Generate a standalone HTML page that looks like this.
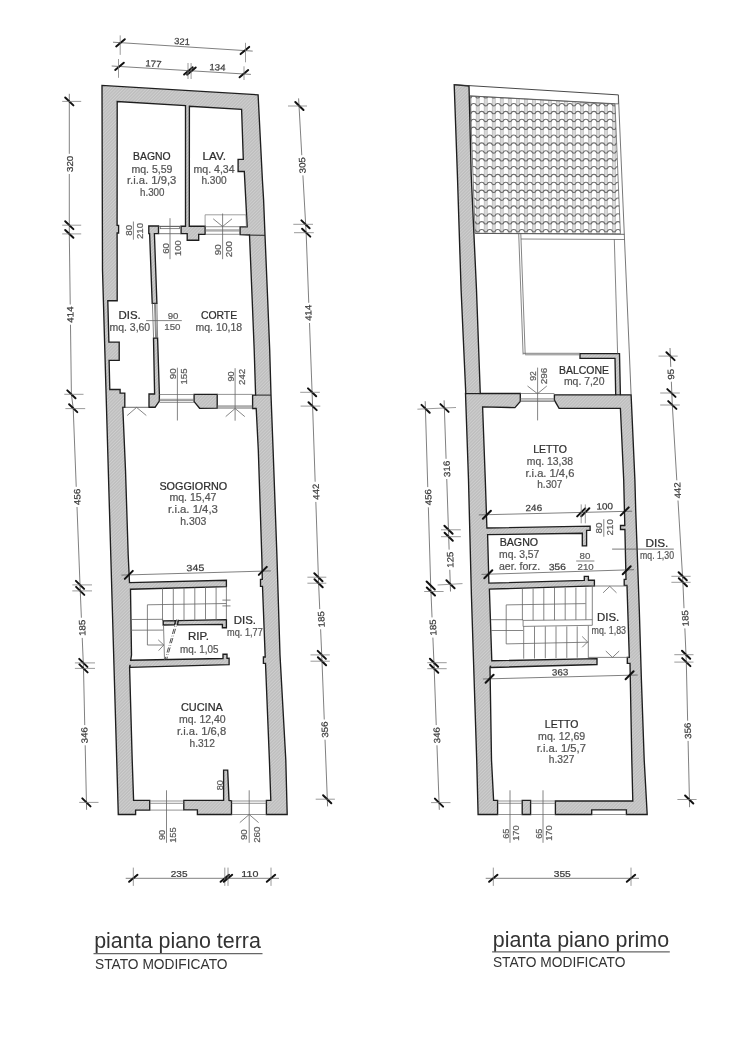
<!DOCTYPE html><html><head><meta charset="utf-8"><style>html,body{margin:0;padding:0;background:#fff;}svg{display:block;will-change:transform}</style></head><body>
<svg width="743" height="1050" viewBox="0 0 743 1050" font-family="&quot;Liberation Sans&quot;, sans-serif">
<defs>
<pattern id="h" patternUnits="userSpaceOnUse" width="2.3" height="2.3" patternTransform="rotate(-45)"><rect width="2.3" height="2.3" fill="#bebebe"/><rect width="2.3" height="0.9" fill="#cfcfcf"/></pattern>
</defs>
<clipPath id="rc"><polygon points="470.0,96.0 615.0,104.0 620.4,233.8 475.2,233.3"/></clipPath>
<g clip-path="url(#rc)">
<rect x="460" y="90" width="170" height="150" fill="#fff"/>
<rect x="467.86" y="90" width="3.6" height="150" fill="#d8d8d8"/><rect x="467.86" y="90" width="0.6" height="150" fill="#b8b8b8"/><rect x="470.86" y="90" width="0.6" height="150" fill="#bebebe"/><rect x="475.88" y="90" width="3.6" height="150" fill="#d8d8d8"/><rect x="475.88" y="90" width="0.6" height="150" fill="#b8b8b8"/><rect x="478.88" y="90" width="0.6" height="150" fill="#bebebe"/><rect x="483.90" y="90" width="3.6" height="150" fill="#d8d8d8"/><rect x="483.90" y="90" width="0.6" height="150" fill="#b8b8b8"/><rect x="486.90" y="90" width="0.6" height="150" fill="#bebebe"/><rect x="491.92" y="90" width="3.6" height="150" fill="#d8d8d8"/><rect x="491.92" y="90" width="0.6" height="150" fill="#b8b8b8"/><rect x="494.92" y="90" width="0.6" height="150" fill="#bebebe"/><rect x="499.94" y="90" width="3.6" height="150" fill="#d8d8d8"/><rect x="499.94" y="90" width="0.6" height="150" fill="#b8b8b8"/><rect x="502.94" y="90" width="0.6" height="150" fill="#bebebe"/><rect x="507.96" y="90" width="3.6" height="150" fill="#d8d8d8"/><rect x="507.96" y="90" width="0.6" height="150" fill="#b8b8b8"/><rect x="510.96" y="90" width="0.6" height="150" fill="#bebebe"/><rect x="515.98" y="90" width="3.6" height="150" fill="#d8d8d8"/><rect x="515.98" y="90" width="0.6" height="150" fill="#b8b8b8"/><rect x="518.98" y="90" width="0.6" height="150" fill="#bebebe"/><rect x="524.00" y="90" width="3.6" height="150" fill="#d8d8d8"/><rect x="524.00" y="90" width="0.6" height="150" fill="#b8b8b8"/><rect x="527.00" y="90" width="0.6" height="150" fill="#bebebe"/><rect x="532.02" y="90" width="3.6" height="150" fill="#d8d8d8"/><rect x="532.02" y="90" width="0.6" height="150" fill="#b8b8b8"/><rect x="535.02" y="90" width="0.6" height="150" fill="#bebebe"/><rect x="540.04" y="90" width="3.6" height="150" fill="#d8d8d8"/><rect x="540.04" y="90" width="0.6" height="150" fill="#b8b8b8"/><rect x="543.04" y="90" width="0.6" height="150" fill="#bebebe"/><rect x="548.06" y="90" width="3.6" height="150" fill="#d8d8d8"/><rect x="548.06" y="90" width="0.6" height="150" fill="#b8b8b8"/><rect x="551.06" y="90" width="0.6" height="150" fill="#bebebe"/><rect x="556.08" y="90" width="3.6" height="150" fill="#d8d8d8"/><rect x="556.08" y="90" width="0.6" height="150" fill="#b8b8b8"/><rect x="559.08" y="90" width="0.6" height="150" fill="#bebebe"/><rect x="564.10" y="90" width="3.6" height="150" fill="#d8d8d8"/><rect x="564.10" y="90" width="0.6" height="150" fill="#b8b8b8"/><rect x="567.10" y="90" width="0.6" height="150" fill="#bebebe"/><rect x="572.12" y="90" width="3.6" height="150" fill="#d8d8d8"/><rect x="572.12" y="90" width="0.6" height="150" fill="#b8b8b8"/><rect x="575.12" y="90" width="0.6" height="150" fill="#bebebe"/><rect x="580.14" y="90" width="3.6" height="150" fill="#d8d8d8"/><rect x="580.14" y="90" width="0.6" height="150" fill="#b8b8b8"/><rect x="583.14" y="90" width="0.6" height="150" fill="#bebebe"/><rect x="588.16" y="90" width="3.6" height="150" fill="#d8d8d8"/><rect x="588.16" y="90" width="0.6" height="150" fill="#b8b8b8"/><rect x="591.16" y="90" width="0.6" height="150" fill="#bebebe"/><rect x="596.18" y="90" width="3.6" height="150" fill="#d8d8d8"/><rect x="596.18" y="90" width="0.6" height="150" fill="#b8b8b8"/><rect x="599.18" y="90" width="0.6" height="150" fill="#bebebe"/><rect x="604.20" y="90" width="3.6" height="150" fill="#d8d8d8"/><rect x="604.20" y="90" width="0.6" height="150" fill="#b8b8b8"/><rect x="607.20" y="90" width="0.6" height="150" fill="#bebebe"/><rect x="612.22" y="90" width="3.6" height="150" fill="#d8d8d8"/><rect x="612.22" y="90" width="0.6" height="150" fill="#b8b8b8"/><rect x="615.22" y="90" width="0.6" height="150" fill="#bebebe"/><rect x="620.24" y="90" width="3.6" height="150" fill="#d8d8d8"/><rect x="620.24" y="90" width="0.6" height="150" fill="#b8b8b8"/><rect x="623.24" y="90" width="0.6" height="150" fill="#bebebe"/><rect x="628.26" y="90" width="3.6" height="150" fill="#d8d8d8"/><rect x="628.26" y="90" width="0.6" height="150" fill="#b8b8b8"/><rect x="631.26" y="90" width="0.6" height="150" fill="#bebebe"/>
<path d="M469.66,98.03Q471.16,98.03 471.46,97.03 C471.46,95.12 475.88,95.12 475.88,97.03 Q476.18,98.03 477.68,98.03Q479.18,98.03 479.48,97.03 C479.48,95.12 483.90,95.12 483.90,97.03 Q484.20,98.03 485.70,98.03Q487.20,98.03 487.50,97.03 C487.50,95.12 491.92,95.12 491.92,97.03 Q492.22,98.03 493.72,98.03Q495.22,98.03 495.52,97.03 C495.52,95.12 499.94,95.12 499.94,97.03 Q500.24,98.03 501.74,98.03Q503.24,98.03 503.54,97.03 C503.54,95.12 507.96,95.12 507.96,97.03 Q508.26,98.03 509.76,98.03Q511.26,98.03 511.56,97.03 C511.56,95.12 515.98,95.12 515.98,97.03 Q516.28,98.03 517.78,98.03Q519.28,98.03 519.58,97.03 C519.58,95.12 524.00,95.12 524.00,97.03 Q524.30,98.03 525.80,98.03Q527.30,98.03 527.60,97.03 C527.60,95.12 532.02,95.12 532.02,97.03 Q532.32,98.03 533.82,98.03Q535.32,98.03 535.62,97.03 C535.62,95.12 540.04,95.12 540.04,97.03 Q540.34,98.03 541.84,98.03Q543.34,98.03 543.64,97.03 C543.64,95.12 548.06,95.12 548.06,97.03 Q548.36,98.03 549.86,98.03Q551.36,98.03 551.66,97.03 C551.66,95.12 556.08,95.12 556.08,97.03 Q556.38,98.03 557.88,98.03Q559.38,98.03 559.68,97.03 C559.68,95.12 564.10,95.12 564.10,97.03 Q564.40,98.03 565.90,98.03Q567.40,98.03 567.70,97.03 C567.70,95.12 572.12,95.12 572.12,97.03 Q572.42,98.03 573.92,98.03Q575.42,98.03 575.72,97.03 C575.72,95.12 580.14,95.12 580.14,97.03 Q580.44,98.03 581.94,98.03Q583.44,98.03 583.74,97.03 C583.74,95.12 588.16,95.12 588.16,97.03 Q588.46,98.03 589.96,98.03Q591.46,98.03 591.76,97.03 C591.76,95.12 596.18,95.12 596.18,97.03 Q596.48,98.03 597.98,98.03Q599.48,98.03 599.78,97.03 C599.78,95.12 604.20,95.12 604.20,97.03 Q604.50,98.03 606.00,98.03Q607.50,98.03 607.80,97.03 C607.80,95.12 612.22,95.12 612.22,97.03 Q612.52,98.03 614.02,98.03Q615.52,98.03 615.82,97.03 C615.82,95.12 620.24,95.12 620.24,97.03 Q620.54,98.03 622.04,98.03Q623.54,98.03 623.84,97.03 C623.84,95.12 628.26,95.12 628.26,97.03 Q628.56,98.03 630.06,98.03Q631.56,98.03 631.86,97.03 C631.86,95.12 636.28,95.12 636.28,97.03 Q636.58,98.03 638.08,98.03 M469.66,105.90Q471.16,105.90 471.46,104.90 C471.46,103.00 475.88,103.00 475.88,104.90 Q476.18,105.90 477.68,105.90Q479.18,105.90 479.48,104.90 C479.48,103.00 483.90,103.00 483.90,104.90 Q484.20,105.90 485.70,105.90Q487.20,105.90 487.50,104.90 C487.50,103.00 491.92,103.00 491.92,104.90 Q492.22,105.90 493.72,105.90Q495.22,105.90 495.52,104.90 C495.52,103.00 499.94,103.00 499.94,104.90 Q500.24,105.90 501.74,105.90Q503.24,105.90 503.54,104.90 C503.54,103.00 507.96,103.00 507.96,104.90 Q508.26,105.90 509.76,105.90Q511.26,105.90 511.56,104.90 C511.56,103.00 515.98,103.00 515.98,104.90 Q516.28,105.90 517.78,105.90Q519.28,105.90 519.58,104.90 C519.58,103.00 524.00,103.00 524.00,104.90 Q524.30,105.90 525.80,105.90Q527.30,105.90 527.60,104.90 C527.60,103.00 532.02,103.00 532.02,104.90 Q532.32,105.90 533.82,105.90Q535.32,105.90 535.62,104.90 C535.62,103.00 540.04,103.00 540.04,104.90 Q540.34,105.90 541.84,105.90Q543.34,105.90 543.64,104.90 C543.64,103.00 548.06,103.00 548.06,104.90 Q548.36,105.90 549.86,105.90Q551.36,105.90 551.66,104.90 C551.66,103.00 556.08,103.00 556.08,104.90 Q556.38,105.90 557.88,105.90Q559.38,105.90 559.68,104.90 C559.68,103.00 564.10,103.00 564.10,104.90 Q564.40,105.90 565.90,105.90Q567.40,105.90 567.70,104.90 C567.70,103.00 572.12,103.00 572.12,104.90 Q572.42,105.90 573.92,105.90Q575.42,105.90 575.72,104.90 C575.72,103.00 580.14,103.00 580.14,104.90 Q580.44,105.90 581.94,105.90Q583.44,105.90 583.74,104.90 C583.74,103.00 588.16,103.00 588.16,104.90 Q588.46,105.90 589.96,105.90Q591.46,105.90 591.76,104.90 C591.76,103.00 596.18,103.00 596.18,104.90 Q596.48,105.90 597.98,105.90Q599.48,105.90 599.78,104.90 C599.78,103.00 604.20,103.00 604.20,104.90 Q604.50,105.90 606.00,105.90Q607.50,105.90 607.80,104.90 C607.80,103.00 612.22,103.00 612.22,104.90 Q612.52,105.90 614.02,105.90Q615.52,105.90 615.82,104.90 C615.82,103.00 620.24,103.00 620.24,104.90 Q620.54,105.90 622.04,105.90Q623.54,105.90 623.84,104.90 C623.84,103.00 628.26,103.00 628.26,104.90 Q628.56,105.90 630.06,105.90Q631.56,105.90 631.86,104.90 C631.86,103.00 636.28,103.00 636.28,104.90 Q636.58,105.90 638.08,105.90 M469.66,113.78Q471.16,113.78 471.46,112.78 C471.46,110.88 475.88,110.88 475.88,112.78 Q476.18,113.78 477.68,113.78Q479.18,113.78 479.48,112.78 C479.48,110.88 483.90,110.88 483.90,112.78 Q484.20,113.78 485.70,113.78Q487.20,113.78 487.50,112.78 C487.50,110.88 491.92,110.88 491.92,112.78 Q492.22,113.78 493.72,113.78Q495.22,113.78 495.52,112.78 C495.52,110.88 499.94,110.88 499.94,112.78 Q500.24,113.78 501.74,113.78Q503.24,113.78 503.54,112.78 C503.54,110.88 507.96,110.88 507.96,112.78 Q508.26,113.78 509.76,113.78Q511.26,113.78 511.56,112.78 C511.56,110.88 515.98,110.88 515.98,112.78 Q516.28,113.78 517.78,113.78Q519.28,113.78 519.58,112.78 C519.58,110.88 524.00,110.88 524.00,112.78 Q524.30,113.78 525.80,113.78Q527.30,113.78 527.60,112.78 C527.60,110.88 532.02,110.88 532.02,112.78 Q532.32,113.78 533.82,113.78Q535.32,113.78 535.62,112.78 C535.62,110.88 540.04,110.88 540.04,112.78 Q540.34,113.78 541.84,113.78Q543.34,113.78 543.64,112.78 C543.64,110.88 548.06,110.88 548.06,112.78 Q548.36,113.78 549.86,113.78Q551.36,113.78 551.66,112.78 C551.66,110.88 556.08,110.88 556.08,112.78 Q556.38,113.78 557.88,113.78Q559.38,113.78 559.68,112.78 C559.68,110.88 564.10,110.88 564.10,112.78 Q564.40,113.78 565.90,113.78Q567.40,113.78 567.70,112.78 C567.70,110.88 572.12,110.88 572.12,112.78 Q572.42,113.78 573.92,113.78Q575.42,113.78 575.72,112.78 C575.72,110.88 580.14,110.88 580.14,112.78 Q580.44,113.78 581.94,113.78Q583.44,113.78 583.74,112.78 C583.74,110.88 588.16,110.88 588.16,112.78 Q588.46,113.78 589.96,113.78Q591.46,113.78 591.76,112.78 C591.76,110.88 596.18,110.88 596.18,112.78 Q596.48,113.78 597.98,113.78Q599.48,113.78 599.78,112.78 C599.78,110.88 604.20,110.88 604.20,112.78 Q604.50,113.78 606.00,113.78Q607.50,113.78 607.80,112.78 C607.80,110.88 612.22,110.88 612.22,112.78 Q612.52,113.78 614.02,113.78Q615.52,113.78 615.82,112.78 C615.82,110.88 620.24,110.88 620.24,112.78 Q620.54,113.78 622.04,113.78Q623.54,113.78 623.84,112.78 C623.84,110.88 628.26,110.88 628.26,112.78 Q628.56,113.78 630.06,113.78Q631.56,113.78 631.86,112.78 C631.86,110.88 636.28,110.88 636.28,112.78 Q636.58,113.78 638.08,113.78 M469.66,121.65Q471.16,121.65 471.46,120.65 C471.46,118.75 475.88,118.75 475.88,120.65 Q476.18,121.65 477.68,121.65Q479.18,121.65 479.48,120.65 C479.48,118.75 483.90,118.75 483.90,120.65 Q484.20,121.65 485.70,121.65Q487.20,121.65 487.50,120.65 C487.50,118.75 491.92,118.75 491.92,120.65 Q492.22,121.65 493.72,121.65Q495.22,121.65 495.52,120.65 C495.52,118.75 499.94,118.75 499.94,120.65 Q500.24,121.65 501.74,121.65Q503.24,121.65 503.54,120.65 C503.54,118.75 507.96,118.75 507.96,120.65 Q508.26,121.65 509.76,121.65Q511.26,121.65 511.56,120.65 C511.56,118.75 515.98,118.75 515.98,120.65 Q516.28,121.65 517.78,121.65Q519.28,121.65 519.58,120.65 C519.58,118.75 524.00,118.75 524.00,120.65 Q524.30,121.65 525.80,121.65Q527.30,121.65 527.60,120.65 C527.60,118.75 532.02,118.75 532.02,120.65 Q532.32,121.65 533.82,121.65Q535.32,121.65 535.62,120.65 C535.62,118.75 540.04,118.75 540.04,120.65 Q540.34,121.65 541.84,121.65Q543.34,121.65 543.64,120.65 C543.64,118.75 548.06,118.75 548.06,120.65 Q548.36,121.65 549.86,121.65Q551.36,121.65 551.66,120.65 C551.66,118.75 556.08,118.75 556.08,120.65 Q556.38,121.65 557.88,121.65Q559.38,121.65 559.68,120.65 C559.68,118.75 564.10,118.75 564.10,120.65 Q564.40,121.65 565.90,121.65Q567.40,121.65 567.70,120.65 C567.70,118.75 572.12,118.75 572.12,120.65 Q572.42,121.65 573.92,121.65Q575.42,121.65 575.72,120.65 C575.72,118.75 580.14,118.75 580.14,120.65 Q580.44,121.65 581.94,121.65Q583.44,121.65 583.74,120.65 C583.74,118.75 588.16,118.75 588.16,120.65 Q588.46,121.65 589.96,121.65Q591.46,121.65 591.76,120.65 C591.76,118.75 596.18,118.75 596.18,120.65 Q596.48,121.65 597.98,121.65Q599.48,121.65 599.78,120.65 C599.78,118.75 604.20,118.75 604.20,120.65 Q604.50,121.65 606.00,121.65Q607.50,121.65 607.80,120.65 C607.80,118.75 612.22,118.75 612.22,120.65 Q612.52,121.65 614.02,121.65Q615.52,121.65 615.82,120.65 C615.82,118.75 620.24,118.75 620.24,120.65 Q620.54,121.65 622.04,121.65Q623.54,121.65 623.84,120.65 C623.84,118.75 628.26,118.75 628.26,120.65 Q628.56,121.65 630.06,121.65Q631.56,121.65 631.86,120.65 C631.86,118.75 636.28,118.75 636.28,120.65 Q636.58,121.65 638.08,121.65 M469.66,129.53Q471.16,129.53 471.46,128.53 C471.46,126.62 475.88,126.62 475.88,128.53 Q476.18,129.53 477.68,129.53Q479.18,129.53 479.48,128.53 C479.48,126.62 483.90,126.62 483.90,128.53 Q484.20,129.53 485.70,129.53Q487.20,129.53 487.50,128.53 C487.50,126.62 491.92,126.62 491.92,128.53 Q492.22,129.53 493.72,129.53Q495.22,129.53 495.52,128.53 C495.52,126.62 499.94,126.62 499.94,128.53 Q500.24,129.53 501.74,129.53Q503.24,129.53 503.54,128.53 C503.54,126.62 507.96,126.62 507.96,128.53 Q508.26,129.53 509.76,129.53Q511.26,129.53 511.56,128.53 C511.56,126.62 515.98,126.62 515.98,128.53 Q516.28,129.53 517.78,129.53Q519.28,129.53 519.58,128.53 C519.58,126.62 524.00,126.62 524.00,128.53 Q524.30,129.53 525.80,129.53Q527.30,129.53 527.60,128.53 C527.60,126.62 532.02,126.62 532.02,128.53 Q532.32,129.53 533.82,129.53Q535.32,129.53 535.62,128.53 C535.62,126.62 540.04,126.62 540.04,128.53 Q540.34,129.53 541.84,129.53Q543.34,129.53 543.64,128.53 C543.64,126.62 548.06,126.62 548.06,128.53 Q548.36,129.53 549.86,129.53Q551.36,129.53 551.66,128.53 C551.66,126.62 556.08,126.62 556.08,128.53 Q556.38,129.53 557.88,129.53Q559.38,129.53 559.68,128.53 C559.68,126.62 564.10,126.62 564.10,128.53 Q564.40,129.53 565.90,129.53Q567.40,129.53 567.70,128.53 C567.70,126.62 572.12,126.62 572.12,128.53 Q572.42,129.53 573.92,129.53Q575.42,129.53 575.72,128.53 C575.72,126.62 580.14,126.62 580.14,128.53 Q580.44,129.53 581.94,129.53Q583.44,129.53 583.74,128.53 C583.74,126.62 588.16,126.62 588.16,128.53 Q588.46,129.53 589.96,129.53Q591.46,129.53 591.76,128.53 C591.76,126.62 596.18,126.62 596.18,128.53 Q596.48,129.53 597.98,129.53Q599.48,129.53 599.78,128.53 C599.78,126.62 604.20,126.62 604.20,128.53 Q604.50,129.53 606.00,129.53Q607.50,129.53 607.80,128.53 C607.80,126.62 612.22,126.62 612.22,128.53 Q612.52,129.53 614.02,129.53Q615.52,129.53 615.82,128.53 C615.82,126.62 620.24,126.62 620.24,128.53 Q620.54,129.53 622.04,129.53Q623.54,129.53 623.84,128.53 C623.84,126.62 628.26,126.62 628.26,128.53 Q628.56,129.53 630.06,129.53Q631.56,129.53 631.86,128.53 C631.86,126.62 636.28,126.62 636.28,128.53 Q636.58,129.53 638.08,129.53 M469.66,137.40Q471.16,137.40 471.46,136.40 C471.46,134.50 475.88,134.50 475.88,136.40 Q476.18,137.40 477.68,137.40Q479.18,137.40 479.48,136.40 C479.48,134.50 483.90,134.50 483.90,136.40 Q484.20,137.40 485.70,137.40Q487.20,137.40 487.50,136.40 C487.50,134.50 491.92,134.50 491.92,136.40 Q492.22,137.40 493.72,137.40Q495.22,137.40 495.52,136.40 C495.52,134.50 499.94,134.50 499.94,136.40 Q500.24,137.40 501.74,137.40Q503.24,137.40 503.54,136.40 C503.54,134.50 507.96,134.50 507.96,136.40 Q508.26,137.40 509.76,137.40Q511.26,137.40 511.56,136.40 C511.56,134.50 515.98,134.50 515.98,136.40 Q516.28,137.40 517.78,137.40Q519.28,137.40 519.58,136.40 C519.58,134.50 524.00,134.50 524.00,136.40 Q524.30,137.40 525.80,137.40Q527.30,137.40 527.60,136.40 C527.60,134.50 532.02,134.50 532.02,136.40 Q532.32,137.40 533.82,137.40Q535.32,137.40 535.62,136.40 C535.62,134.50 540.04,134.50 540.04,136.40 Q540.34,137.40 541.84,137.40Q543.34,137.40 543.64,136.40 C543.64,134.50 548.06,134.50 548.06,136.40 Q548.36,137.40 549.86,137.40Q551.36,137.40 551.66,136.40 C551.66,134.50 556.08,134.50 556.08,136.40 Q556.38,137.40 557.88,137.40Q559.38,137.40 559.68,136.40 C559.68,134.50 564.10,134.50 564.10,136.40 Q564.40,137.40 565.90,137.40Q567.40,137.40 567.70,136.40 C567.70,134.50 572.12,134.50 572.12,136.40 Q572.42,137.40 573.92,137.40Q575.42,137.40 575.72,136.40 C575.72,134.50 580.14,134.50 580.14,136.40 Q580.44,137.40 581.94,137.40Q583.44,137.40 583.74,136.40 C583.74,134.50 588.16,134.50 588.16,136.40 Q588.46,137.40 589.96,137.40Q591.46,137.40 591.76,136.40 C591.76,134.50 596.18,134.50 596.18,136.40 Q596.48,137.40 597.98,137.40Q599.48,137.40 599.78,136.40 C599.78,134.50 604.20,134.50 604.20,136.40 Q604.50,137.40 606.00,137.40Q607.50,137.40 607.80,136.40 C607.80,134.50 612.22,134.50 612.22,136.40 Q612.52,137.40 614.02,137.40Q615.52,137.40 615.82,136.40 C615.82,134.50 620.24,134.50 620.24,136.40 Q620.54,137.40 622.04,137.40Q623.54,137.40 623.84,136.40 C623.84,134.50 628.26,134.50 628.26,136.40 Q628.56,137.40 630.06,137.40Q631.56,137.40 631.86,136.40 C631.86,134.50 636.28,134.50 636.28,136.40 Q636.58,137.40 638.08,137.40 M469.66,145.28Q471.16,145.28 471.46,144.28 C471.46,142.38 475.88,142.38 475.88,144.28 Q476.18,145.28 477.68,145.28Q479.18,145.28 479.48,144.28 C479.48,142.38 483.90,142.38 483.90,144.28 Q484.20,145.28 485.70,145.28Q487.20,145.28 487.50,144.28 C487.50,142.38 491.92,142.38 491.92,144.28 Q492.22,145.28 493.72,145.28Q495.22,145.28 495.52,144.28 C495.52,142.38 499.94,142.38 499.94,144.28 Q500.24,145.28 501.74,145.28Q503.24,145.28 503.54,144.28 C503.54,142.38 507.96,142.38 507.96,144.28 Q508.26,145.28 509.76,145.28Q511.26,145.28 511.56,144.28 C511.56,142.38 515.98,142.38 515.98,144.28 Q516.28,145.28 517.78,145.28Q519.28,145.28 519.58,144.28 C519.58,142.38 524.00,142.38 524.00,144.28 Q524.30,145.28 525.80,145.28Q527.30,145.28 527.60,144.28 C527.60,142.38 532.02,142.38 532.02,144.28 Q532.32,145.28 533.82,145.28Q535.32,145.28 535.62,144.28 C535.62,142.38 540.04,142.38 540.04,144.28 Q540.34,145.28 541.84,145.28Q543.34,145.28 543.64,144.28 C543.64,142.38 548.06,142.38 548.06,144.28 Q548.36,145.28 549.86,145.28Q551.36,145.28 551.66,144.28 C551.66,142.38 556.08,142.38 556.08,144.28 Q556.38,145.28 557.88,145.28Q559.38,145.28 559.68,144.28 C559.68,142.38 564.10,142.38 564.10,144.28 Q564.40,145.28 565.90,145.28Q567.40,145.28 567.70,144.28 C567.70,142.38 572.12,142.38 572.12,144.28 Q572.42,145.28 573.92,145.28Q575.42,145.28 575.72,144.28 C575.72,142.38 580.14,142.38 580.14,144.28 Q580.44,145.28 581.94,145.28Q583.44,145.28 583.74,144.28 C583.74,142.38 588.16,142.38 588.16,144.28 Q588.46,145.28 589.96,145.28Q591.46,145.28 591.76,144.28 C591.76,142.38 596.18,142.38 596.18,144.28 Q596.48,145.28 597.98,145.28Q599.48,145.28 599.78,144.28 C599.78,142.38 604.20,142.38 604.20,144.28 Q604.50,145.28 606.00,145.28Q607.50,145.28 607.80,144.28 C607.80,142.38 612.22,142.38 612.22,144.28 Q612.52,145.28 614.02,145.28Q615.52,145.28 615.82,144.28 C615.82,142.38 620.24,142.38 620.24,144.28 Q620.54,145.28 622.04,145.28Q623.54,145.28 623.84,144.28 C623.84,142.38 628.26,142.38 628.26,144.28 Q628.56,145.28 630.06,145.28Q631.56,145.28 631.86,144.28 C631.86,142.38 636.28,142.38 636.28,144.28 Q636.58,145.28 638.08,145.28 M469.66,153.15Q471.16,153.15 471.46,152.15 C471.46,150.25 475.88,150.25 475.88,152.15 Q476.18,153.15 477.68,153.15Q479.18,153.15 479.48,152.15 C479.48,150.25 483.90,150.25 483.90,152.15 Q484.20,153.15 485.70,153.15Q487.20,153.15 487.50,152.15 C487.50,150.25 491.92,150.25 491.92,152.15 Q492.22,153.15 493.72,153.15Q495.22,153.15 495.52,152.15 C495.52,150.25 499.94,150.25 499.94,152.15 Q500.24,153.15 501.74,153.15Q503.24,153.15 503.54,152.15 C503.54,150.25 507.96,150.25 507.96,152.15 Q508.26,153.15 509.76,153.15Q511.26,153.15 511.56,152.15 C511.56,150.25 515.98,150.25 515.98,152.15 Q516.28,153.15 517.78,153.15Q519.28,153.15 519.58,152.15 C519.58,150.25 524.00,150.25 524.00,152.15 Q524.30,153.15 525.80,153.15Q527.30,153.15 527.60,152.15 C527.60,150.25 532.02,150.25 532.02,152.15 Q532.32,153.15 533.82,153.15Q535.32,153.15 535.62,152.15 C535.62,150.25 540.04,150.25 540.04,152.15 Q540.34,153.15 541.84,153.15Q543.34,153.15 543.64,152.15 C543.64,150.25 548.06,150.25 548.06,152.15 Q548.36,153.15 549.86,153.15Q551.36,153.15 551.66,152.15 C551.66,150.25 556.08,150.25 556.08,152.15 Q556.38,153.15 557.88,153.15Q559.38,153.15 559.68,152.15 C559.68,150.25 564.10,150.25 564.10,152.15 Q564.40,153.15 565.90,153.15Q567.40,153.15 567.70,152.15 C567.70,150.25 572.12,150.25 572.12,152.15 Q572.42,153.15 573.92,153.15Q575.42,153.15 575.72,152.15 C575.72,150.25 580.14,150.25 580.14,152.15 Q580.44,153.15 581.94,153.15Q583.44,153.15 583.74,152.15 C583.74,150.25 588.16,150.25 588.16,152.15 Q588.46,153.15 589.96,153.15Q591.46,153.15 591.76,152.15 C591.76,150.25 596.18,150.25 596.18,152.15 Q596.48,153.15 597.98,153.15Q599.48,153.15 599.78,152.15 C599.78,150.25 604.20,150.25 604.20,152.15 Q604.50,153.15 606.00,153.15Q607.50,153.15 607.80,152.15 C607.80,150.25 612.22,150.25 612.22,152.15 Q612.52,153.15 614.02,153.15Q615.52,153.15 615.82,152.15 C615.82,150.25 620.24,150.25 620.24,152.15 Q620.54,153.15 622.04,153.15Q623.54,153.15 623.84,152.15 C623.84,150.25 628.26,150.25 628.26,152.15 Q628.56,153.15 630.06,153.15Q631.56,153.15 631.86,152.15 C631.86,150.25 636.28,150.25 636.28,152.15 Q636.58,153.15 638.08,153.15 M469.66,161.03Q471.16,161.03 471.46,160.03 C471.46,158.12 475.88,158.12 475.88,160.03 Q476.18,161.03 477.68,161.03Q479.18,161.03 479.48,160.03 C479.48,158.12 483.90,158.12 483.90,160.03 Q484.20,161.03 485.70,161.03Q487.20,161.03 487.50,160.03 C487.50,158.12 491.92,158.12 491.92,160.03 Q492.22,161.03 493.72,161.03Q495.22,161.03 495.52,160.03 C495.52,158.12 499.94,158.12 499.94,160.03 Q500.24,161.03 501.74,161.03Q503.24,161.03 503.54,160.03 C503.54,158.12 507.96,158.12 507.96,160.03 Q508.26,161.03 509.76,161.03Q511.26,161.03 511.56,160.03 C511.56,158.12 515.98,158.12 515.98,160.03 Q516.28,161.03 517.78,161.03Q519.28,161.03 519.58,160.03 C519.58,158.12 524.00,158.12 524.00,160.03 Q524.30,161.03 525.80,161.03Q527.30,161.03 527.60,160.03 C527.60,158.12 532.02,158.12 532.02,160.03 Q532.32,161.03 533.82,161.03Q535.32,161.03 535.62,160.03 C535.62,158.12 540.04,158.12 540.04,160.03 Q540.34,161.03 541.84,161.03Q543.34,161.03 543.64,160.03 C543.64,158.12 548.06,158.12 548.06,160.03 Q548.36,161.03 549.86,161.03Q551.36,161.03 551.66,160.03 C551.66,158.12 556.08,158.12 556.08,160.03 Q556.38,161.03 557.88,161.03Q559.38,161.03 559.68,160.03 C559.68,158.12 564.10,158.12 564.10,160.03 Q564.40,161.03 565.90,161.03Q567.40,161.03 567.70,160.03 C567.70,158.12 572.12,158.12 572.12,160.03 Q572.42,161.03 573.92,161.03Q575.42,161.03 575.72,160.03 C575.72,158.12 580.14,158.12 580.14,160.03 Q580.44,161.03 581.94,161.03Q583.44,161.03 583.74,160.03 C583.74,158.12 588.16,158.12 588.16,160.03 Q588.46,161.03 589.96,161.03Q591.46,161.03 591.76,160.03 C591.76,158.12 596.18,158.12 596.18,160.03 Q596.48,161.03 597.98,161.03Q599.48,161.03 599.78,160.03 C599.78,158.12 604.20,158.12 604.20,160.03 Q604.50,161.03 606.00,161.03Q607.50,161.03 607.80,160.03 C607.80,158.12 612.22,158.12 612.22,160.03 Q612.52,161.03 614.02,161.03Q615.52,161.03 615.82,160.03 C615.82,158.12 620.24,158.12 620.24,160.03 Q620.54,161.03 622.04,161.03Q623.54,161.03 623.84,160.03 C623.84,158.12 628.26,158.12 628.26,160.03 Q628.56,161.03 630.06,161.03Q631.56,161.03 631.86,160.03 C631.86,158.12 636.28,158.12 636.28,160.03 Q636.58,161.03 638.08,161.03 M469.66,168.90Q471.16,168.90 471.46,167.90 C471.46,166.00 475.88,166.00 475.88,167.90 Q476.18,168.90 477.68,168.90Q479.18,168.90 479.48,167.90 C479.48,166.00 483.90,166.00 483.90,167.90 Q484.20,168.90 485.70,168.90Q487.20,168.90 487.50,167.90 C487.50,166.00 491.92,166.00 491.92,167.90 Q492.22,168.90 493.72,168.90Q495.22,168.90 495.52,167.90 C495.52,166.00 499.94,166.00 499.94,167.90 Q500.24,168.90 501.74,168.90Q503.24,168.90 503.54,167.90 C503.54,166.00 507.96,166.00 507.96,167.90 Q508.26,168.90 509.76,168.90Q511.26,168.90 511.56,167.90 C511.56,166.00 515.98,166.00 515.98,167.90 Q516.28,168.90 517.78,168.90Q519.28,168.90 519.58,167.90 C519.58,166.00 524.00,166.00 524.00,167.90 Q524.30,168.90 525.80,168.90Q527.30,168.90 527.60,167.90 C527.60,166.00 532.02,166.00 532.02,167.90 Q532.32,168.90 533.82,168.90Q535.32,168.90 535.62,167.90 C535.62,166.00 540.04,166.00 540.04,167.90 Q540.34,168.90 541.84,168.90Q543.34,168.90 543.64,167.90 C543.64,166.00 548.06,166.00 548.06,167.90 Q548.36,168.90 549.86,168.90Q551.36,168.90 551.66,167.90 C551.66,166.00 556.08,166.00 556.08,167.90 Q556.38,168.90 557.88,168.90Q559.38,168.90 559.68,167.90 C559.68,166.00 564.10,166.00 564.10,167.90 Q564.40,168.90 565.90,168.90Q567.40,168.90 567.70,167.90 C567.70,166.00 572.12,166.00 572.12,167.90 Q572.42,168.90 573.92,168.90Q575.42,168.90 575.72,167.90 C575.72,166.00 580.14,166.00 580.14,167.90 Q580.44,168.90 581.94,168.90Q583.44,168.90 583.74,167.90 C583.74,166.00 588.16,166.00 588.16,167.90 Q588.46,168.90 589.96,168.90Q591.46,168.90 591.76,167.90 C591.76,166.00 596.18,166.00 596.18,167.90 Q596.48,168.90 597.98,168.90Q599.48,168.90 599.78,167.90 C599.78,166.00 604.20,166.00 604.20,167.90 Q604.50,168.90 606.00,168.90Q607.50,168.90 607.80,167.90 C607.80,166.00 612.22,166.00 612.22,167.90 Q612.52,168.90 614.02,168.90Q615.52,168.90 615.82,167.90 C615.82,166.00 620.24,166.00 620.24,167.90 Q620.54,168.90 622.04,168.90Q623.54,168.90 623.84,167.90 C623.84,166.00 628.26,166.00 628.26,167.90 Q628.56,168.90 630.06,168.90Q631.56,168.90 631.86,167.90 C631.86,166.00 636.28,166.00 636.28,167.90 Q636.58,168.90 638.08,168.90 M469.66,176.78Q471.16,176.78 471.46,175.78 C471.46,173.88 475.88,173.88 475.88,175.78 Q476.18,176.78 477.68,176.78Q479.18,176.78 479.48,175.78 C479.48,173.88 483.90,173.88 483.90,175.78 Q484.20,176.78 485.70,176.78Q487.20,176.78 487.50,175.78 C487.50,173.88 491.92,173.88 491.92,175.78 Q492.22,176.78 493.72,176.78Q495.22,176.78 495.52,175.78 C495.52,173.88 499.94,173.88 499.94,175.78 Q500.24,176.78 501.74,176.78Q503.24,176.78 503.54,175.78 C503.54,173.88 507.96,173.88 507.96,175.78 Q508.26,176.78 509.76,176.78Q511.26,176.78 511.56,175.78 C511.56,173.88 515.98,173.88 515.98,175.78 Q516.28,176.78 517.78,176.78Q519.28,176.78 519.58,175.78 C519.58,173.88 524.00,173.88 524.00,175.78 Q524.30,176.78 525.80,176.78Q527.30,176.78 527.60,175.78 C527.60,173.88 532.02,173.88 532.02,175.78 Q532.32,176.78 533.82,176.78Q535.32,176.78 535.62,175.78 C535.62,173.88 540.04,173.88 540.04,175.78 Q540.34,176.78 541.84,176.78Q543.34,176.78 543.64,175.78 C543.64,173.88 548.06,173.88 548.06,175.78 Q548.36,176.78 549.86,176.78Q551.36,176.78 551.66,175.78 C551.66,173.88 556.08,173.88 556.08,175.78 Q556.38,176.78 557.88,176.78Q559.38,176.78 559.68,175.78 C559.68,173.88 564.10,173.88 564.10,175.78 Q564.40,176.78 565.90,176.78Q567.40,176.78 567.70,175.78 C567.70,173.88 572.12,173.88 572.12,175.78 Q572.42,176.78 573.92,176.78Q575.42,176.78 575.72,175.78 C575.72,173.88 580.14,173.88 580.14,175.78 Q580.44,176.78 581.94,176.78Q583.44,176.78 583.74,175.78 C583.74,173.88 588.16,173.88 588.16,175.78 Q588.46,176.78 589.96,176.78Q591.46,176.78 591.76,175.78 C591.76,173.88 596.18,173.88 596.18,175.78 Q596.48,176.78 597.98,176.78Q599.48,176.78 599.78,175.78 C599.78,173.88 604.20,173.88 604.20,175.78 Q604.50,176.78 606.00,176.78Q607.50,176.78 607.80,175.78 C607.80,173.88 612.22,173.88 612.22,175.78 Q612.52,176.78 614.02,176.78Q615.52,176.78 615.82,175.78 C615.82,173.88 620.24,173.88 620.24,175.78 Q620.54,176.78 622.04,176.78Q623.54,176.78 623.84,175.78 C623.84,173.88 628.26,173.88 628.26,175.78 Q628.56,176.78 630.06,176.78Q631.56,176.78 631.86,175.78 C631.86,173.88 636.28,173.88 636.28,175.78 Q636.58,176.78 638.08,176.78 M469.66,184.65Q471.16,184.65 471.46,183.65 C471.46,181.75 475.88,181.75 475.88,183.65 Q476.18,184.65 477.68,184.65Q479.18,184.65 479.48,183.65 C479.48,181.75 483.90,181.75 483.90,183.65 Q484.20,184.65 485.70,184.65Q487.20,184.65 487.50,183.65 C487.50,181.75 491.92,181.75 491.92,183.65 Q492.22,184.65 493.72,184.65Q495.22,184.65 495.52,183.65 C495.52,181.75 499.94,181.75 499.94,183.65 Q500.24,184.65 501.74,184.65Q503.24,184.65 503.54,183.65 C503.54,181.75 507.96,181.75 507.96,183.65 Q508.26,184.65 509.76,184.65Q511.26,184.65 511.56,183.65 C511.56,181.75 515.98,181.75 515.98,183.65 Q516.28,184.65 517.78,184.65Q519.28,184.65 519.58,183.65 C519.58,181.75 524.00,181.75 524.00,183.65 Q524.30,184.65 525.80,184.65Q527.30,184.65 527.60,183.65 C527.60,181.75 532.02,181.75 532.02,183.65 Q532.32,184.65 533.82,184.65Q535.32,184.65 535.62,183.65 C535.62,181.75 540.04,181.75 540.04,183.65 Q540.34,184.65 541.84,184.65Q543.34,184.65 543.64,183.65 C543.64,181.75 548.06,181.75 548.06,183.65 Q548.36,184.65 549.86,184.65Q551.36,184.65 551.66,183.65 C551.66,181.75 556.08,181.75 556.08,183.65 Q556.38,184.65 557.88,184.65Q559.38,184.65 559.68,183.65 C559.68,181.75 564.10,181.75 564.10,183.65 Q564.40,184.65 565.90,184.65Q567.40,184.65 567.70,183.65 C567.70,181.75 572.12,181.75 572.12,183.65 Q572.42,184.65 573.92,184.65Q575.42,184.65 575.72,183.65 C575.72,181.75 580.14,181.75 580.14,183.65 Q580.44,184.65 581.94,184.65Q583.44,184.65 583.74,183.65 C583.74,181.75 588.16,181.75 588.16,183.65 Q588.46,184.65 589.96,184.65Q591.46,184.65 591.76,183.65 C591.76,181.75 596.18,181.75 596.18,183.65 Q596.48,184.65 597.98,184.65Q599.48,184.65 599.78,183.65 C599.78,181.75 604.20,181.75 604.20,183.65 Q604.50,184.65 606.00,184.65Q607.50,184.65 607.80,183.65 C607.80,181.75 612.22,181.75 612.22,183.65 Q612.52,184.65 614.02,184.65Q615.52,184.65 615.82,183.65 C615.82,181.75 620.24,181.75 620.24,183.65 Q620.54,184.65 622.04,184.65Q623.54,184.65 623.84,183.65 C623.84,181.75 628.26,181.75 628.26,183.65 Q628.56,184.65 630.06,184.65Q631.56,184.65 631.86,183.65 C631.86,181.75 636.28,181.75 636.28,183.65 Q636.58,184.65 638.08,184.65 M469.66,192.53Q471.16,192.53 471.46,191.53 C471.46,189.62 475.88,189.62 475.88,191.53 Q476.18,192.53 477.68,192.53Q479.18,192.53 479.48,191.53 C479.48,189.62 483.90,189.62 483.90,191.53 Q484.20,192.53 485.70,192.53Q487.20,192.53 487.50,191.53 C487.50,189.62 491.92,189.62 491.92,191.53 Q492.22,192.53 493.72,192.53Q495.22,192.53 495.52,191.53 C495.52,189.62 499.94,189.62 499.94,191.53 Q500.24,192.53 501.74,192.53Q503.24,192.53 503.54,191.53 C503.54,189.62 507.96,189.62 507.96,191.53 Q508.26,192.53 509.76,192.53Q511.26,192.53 511.56,191.53 C511.56,189.62 515.98,189.62 515.98,191.53 Q516.28,192.53 517.78,192.53Q519.28,192.53 519.58,191.53 C519.58,189.62 524.00,189.62 524.00,191.53 Q524.30,192.53 525.80,192.53Q527.30,192.53 527.60,191.53 C527.60,189.62 532.02,189.62 532.02,191.53 Q532.32,192.53 533.82,192.53Q535.32,192.53 535.62,191.53 C535.62,189.62 540.04,189.62 540.04,191.53 Q540.34,192.53 541.84,192.53Q543.34,192.53 543.64,191.53 C543.64,189.62 548.06,189.62 548.06,191.53 Q548.36,192.53 549.86,192.53Q551.36,192.53 551.66,191.53 C551.66,189.62 556.08,189.62 556.08,191.53 Q556.38,192.53 557.88,192.53Q559.38,192.53 559.68,191.53 C559.68,189.62 564.10,189.62 564.10,191.53 Q564.40,192.53 565.90,192.53Q567.40,192.53 567.70,191.53 C567.70,189.62 572.12,189.62 572.12,191.53 Q572.42,192.53 573.92,192.53Q575.42,192.53 575.72,191.53 C575.72,189.62 580.14,189.62 580.14,191.53 Q580.44,192.53 581.94,192.53Q583.44,192.53 583.74,191.53 C583.74,189.62 588.16,189.62 588.16,191.53 Q588.46,192.53 589.96,192.53Q591.46,192.53 591.76,191.53 C591.76,189.62 596.18,189.62 596.18,191.53 Q596.48,192.53 597.98,192.53Q599.48,192.53 599.78,191.53 C599.78,189.62 604.20,189.62 604.20,191.53 Q604.50,192.53 606.00,192.53Q607.50,192.53 607.80,191.53 C607.80,189.62 612.22,189.62 612.22,191.53 Q612.52,192.53 614.02,192.53Q615.52,192.53 615.82,191.53 C615.82,189.62 620.24,189.62 620.24,191.53 Q620.54,192.53 622.04,192.53Q623.54,192.53 623.84,191.53 C623.84,189.62 628.26,189.62 628.26,191.53 Q628.56,192.53 630.06,192.53Q631.56,192.53 631.86,191.53 C631.86,189.62 636.28,189.62 636.28,191.53 Q636.58,192.53 638.08,192.53 M469.66,200.40Q471.16,200.40 471.46,199.40 C471.46,197.50 475.88,197.50 475.88,199.40 Q476.18,200.40 477.68,200.40Q479.18,200.40 479.48,199.40 C479.48,197.50 483.90,197.50 483.90,199.40 Q484.20,200.40 485.70,200.40Q487.20,200.40 487.50,199.40 C487.50,197.50 491.92,197.50 491.92,199.40 Q492.22,200.40 493.72,200.40Q495.22,200.40 495.52,199.40 C495.52,197.50 499.94,197.50 499.94,199.40 Q500.24,200.40 501.74,200.40Q503.24,200.40 503.54,199.40 C503.54,197.50 507.96,197.50 507.96,199.40 Q508.26,200.40 509.76,200.40Q511.26,200.40 511.56,199.40 C511.56,197.50 515.98,197.50 515.98,199.40 Q516.28,200.40 517.78,200.40Q519.28,200.40 519.58,199.40 C519.58,197.50 524.00,197.50 524.00,199.40 Q524.30,200.40 525.80,200.40Q527.30,200.40 527.60,199.40 C527.60,197.50 532.02,197.50 532.02,199.40 Q532.32,200.40 533.82,200.40Q535.32,200.40 535.62,199.40 C535.62,197.50 540.04,197.50 540.04,199.40 Q540.34,200.40 541.84,200.40Q543.34,200.40 543.64,199.40 C543.64,197.50 548.06,197.50 548.06,199.40 Q548.36,200.40 549.86,200.40Q551.36,200.40 551.66,199.40 C551.66,197.50 556.08,197.50 556.08,199.40 Q556.38,200.40 557.88,200.40Q559.38,200.40 559.68,199.40 C559.68,197.50 564.10,197.50 564.10,199.40 Q564.40,200.40 565.90,200.40Q567.40,200.40 567.70,199.40 C567.70,197.50 572.12,197.50 572.12,199.40 Q572.42,200.40 573.92,200.40Q575.42,200.40 575.72,199.40 C575.72,197.50 580.14,197.50 580.14,199.40 Q580.44,200.40 581.94,200.40Q583.44,200.40 583.74,199.40 C583.74,197.50 588.16,197.50 588.16,199.40 Q588.46,200.40 589.96,200.40Q591.46,200.40 591.76,199.40 C591.76,197.50 596.18,197.50 596.18,199.40 Q596.48,200.40 597.98,200.40Q599.48,200.40 599.78,199.40 C599.78,197.50 604.20,197.50 604.20,199.40 Q604.50,200.40 606.00,200.40Q607.50,200.40 607.80,199.40 C607.80,197.50 612.22,197.50 612.22,199.40 Q612.52,200.40 614.02,200.40Q615.52,200.40 615.82,199.40 C615.82,197.50 620.24,197.50 620.24,199.40 Q620.54,200.40 622.04,200.40Q623.54,200.40 623.84,199.40 C623.84,197.50 628.26,197.50 628.26,199.40 Q628.56,200.40 630.06,200.40Q631.56,200.40 631.86,199.40 C631.86,197.50 636.28,197.50 636.28,199.40 Q636.58,200.40 638.08,200.40 M469.66,208.28Q471.16,208.28 471.46,207.28 C471.46,205.38 475.88,205.38 475.88,207.28 Q476.18,208.28 477.68,208.28Q479.18,208.28 479.48,207.28 C479.48,205.38 483.90,205.38 483.90,207.28 Q484.20,208.28 485.70,208.28Q487.20,208.28 487.50,207.28 C487.50,205.38 491.92,205.38 491.92,207.28 Q492.22,208.28 493.72,208.28Q495.22,208.28 495.52,207.28 C495.52,205.38 499.94,205.38 499.94,207.28 Q500.24,208.28 501.74,208.28Q503.24,208.28 503.54,207.28 C503.54,205.38 507.96,205.38 507.96,207.28 Q508.26,208.28 509.76,208.28Q511.26,208.28 511.56,207.28 C511.56,205.38 515.98,205.38 515.98,207.28 Q516.28,208.28 517.78,208.28Q519.28,208.28 519.58,207.28 C519.58,205.38 524.00,205.38 524.00,207.28 Q524.30,208.28 525.80,208.28Q527.30,208.28 527.60,207.28 C527.60,205.38 532.02,205.38 532.02,207.28 Q532.32,208.28 533.82,208.28Q535.32,208.28 535.62,207.28 C535.62,205.38 540.04,205.38 540.04,207.28 Q540.34,208.28 541.84,208.28Q543.34,208.28 543.64,207.28 C543.64,205.38 548.06,205.38 548.06,207.28 Q548.36,208.28 549.86,208.28Q551.36,208.28 551.66,207.28 C551.66,205.38 556.08,205.38 556.08,207.28 Q556.38,208.28 557.88,208.28Q559.38,208.28 559.68,207.28 C559.68,205.38 564.10,205.38 564.10,207.28 Q564.40,208.28 565.90,208.28Q567.40,208.28 567.70,207.28 C567.70,205.38 572.12,205.38 572.12,207.28 Q572.42,208.28 573.92,208.28Q575.42,208.28 575.72,207.28 C575.72,205.38 580.14,205.38 580.14,207.28 Q580.44,208.28 581.94,208.28Q583.44,208.28 583.74,207.28 C583.74,205.38 588.16,205.38 588.16,207.28 Q588.46,208.28 589.96,208.28Q591.46,208.28 591.76,207.28 C591.76,205.38 596.18,205.38 596.18,207.28 Q596.48,208.28 597.98,208.28Q599.48,208.28 599.78,207.28 C599.78,205.38 604.20,205.38 604.20,207.28 Q604.50,208.28 606.00,208.28Q607.50,208.28 607.80,207.28 C607.80,205.38 612.22,205.38 612.22,207.28 Q612.52,208.28 614.02,208.28Q615.52,208.28 615.82,207.28 C615.82,205.38 620.24,205.38 620.24,207.28 Q620.54,208.28 622.04,208.28Q623.54,208.28 623.84,207.28 C623.84,205.38 628.26,205.38 628.26,207.28 Q628.56,208.28 630.06,208.28Q631.56,208.28 631.86,207.28 C631.86,205.38 636.28,205.38 636.28,207.28 Q636.58,208.28 638.08,208.28 M469.66,216.15Q471.16,216.15 471.46,215.15 C471.46,213.25 475.88,213.25 475.88,215.15 Q476.18,216.15 477.68,216.15Q479.18,216.15 479.48,215.15 C479.48,213.25 483.90,213.25 483.90,215.15 Q484.20,216.15 485.70,216.15Q487.20,216.15 487.50,215.15 C487.50,213.25 491.92,213.25 491.92,215.15 Q492.22,216.15 493.72,216.15Q495.22,216.15 495.52,215.15 C495.52,213.25 499.94,213.25 499.94,215.15 Q500.24,216.15 501.74,216.15Q503.24,216.15 503.54,215.15 C503.54,213.25 507.96,213.25 507.96,215.15 Q508.26,216.15 509.76,216.15Q511.26,216.15 511.56,215.15 C511.56,213.25 515.98,213.25 515.98,215.15 Q516.28,216.15 517.78,216.15Q519.28,216.15 519.58,215.15 C519.58,213.25 524.00,213.25 524.00,215.15 Q524.30,216.15 525.80,216.15Q527.30,216.15 527.60,215.15 C527.60,213.25 532.02,213.25 532.02,215.15 Q532.32,216.15 533.82,216.15Q535.32,216.15 535.62,215.15 C535.62,213.25 540.04,213.25 540.04,215.15 Q540.34,216.15 541.84,216.15Q543.34,216.15 543.64,215.15 C543.64,213.25 548.06,213.25 548.06,215.15 Q548.36,216.15 549.86,216.15Q551.36,216.15 551.66,215.15 C551.66,213.25 556.08,213.25 556.08,215.15 Q556.38,216.15 557.88,216.15Q559.38,216.15 559.68,215.15 C559.68,213.25 564.10,213.25 564.10,215.15 Q564.40,216.15 565.90,216.15Q567.40,216.15 567.70,215.15 C567.70,213.25 572.12,213.25 572.12,215.15 Q572.42,216.15 573.92,216.15Q575.42,216.15 575.72,215.15 C575.72,213.25 580.14,213.25 580.14,215.15 Q580.44,216.15 581.94,216.15Q583.44,216.15 583.74,215.15 C583.74,213.25 588.16,213.25 588.16,215.15 Q588.46,216.15 589.96,216.15Q591.46,216.15 591.76,215.15 C591.76,213.25 596.18,213.25 596.18,215.15 Q596.48,216.15 597.98,216.15Q599.48,216.15 599.78,215.15 C599.78,213.25 604.20,213.25 604.20,215.15 Q604.50,216.15 606.00,216.15Q607.50,216.15 607.80,215.15 C607.80,213.25 612.22,213.25 612.22,215.15 Q612.52,216.15 614.02,216.15Q615.52,216.15 615.82,215.15 C615.82,213.25 620.24,213.25 620.24,215.15 Q620.54,216.15 622.04,216.15Q623.54,216.15 623.84,215.15 C623.84,213.25 628.26,213.25 628.26,215.15 Q628.56,216.15 630.06,216.15Q631.56,216.15 631.86,215.15 C631.86,213.25 636.28,213.25 636.28,215.15 Q636.58,216.15 638.08,216.15 M469.66,224.03Q471.16,224.03 471.46,223.03 C471.46,221.12 475.88,221.12 475.88,223.03 Q476.18,224.03 477.68,224.03Q479.18,224.03 479.48,223.03 C479.48,221.12 483.90,221.12 483.90,223.03 Q484.20,224.03 485.70,224.03Q487.20,224.03 487.50,223.03 C487.50,221.12 491.92,221.12 491.92,223.03 Q492.22,224.03 493.72,224.03Q495.22,224.03 495.52,223.03 C495.52,221.12 499.94,221.12 499.94,223.03 Q500.24,224.03 501.74,224.03Q503.24,224.03 503.54,223.03 C503.54,221.12 507.96,221.12 507.96,223.03 Q508.26,224.03 509.76,224.03Q511.26,224.03 511.56,223.03 C511.56,221.12 515.98,221.12 515.98,223.03 Q516.28,224.03 517.78,224.03Q519.28,224.03 519.58,223.03 C519.58,221.12 524.00,221.12 524.00,223.03 Q524.30,224.03 525.80,224.03Q527.30,224.03 527.60,223.03 C527.60,221.12 532.02,221.12 532.02,223.03 Q532.32,224.03 533.82,224.03Q535.32,224.03 535.62,223.03 C535.62,221.12 540.04,221.12 540.04,223.03 Q540.34,224.03 541.84,224.03Q543.34,224.03 543.64,223.03 C543.64,221.12 548.06,221.12 548.06,223.03 Q548.36,224.03 549.86,224.03Q551.36,224.03 551.66,223.03 C551.66,221.12 556.08,221.12 556.08,223.03 Q556.38,224.03 557.88,224.03Q559.38,224.03 559.68,223.03 C559.68,221.12 564.10,221.12 564.10,223.03 Q564.40,224.03 565.90,224.03Q567.40,224.03 567.70,223.03 C567.70,221.12 572.12,221.12 572.12,223.03 Q572.42,224.03 573.92,224.03Q575.42,224.03 575.72,223.03 C575.72,221.12 580.14,221.12 580.14,223.03 Q580.44,224.03 581.94,224.03Q583.44,224.03 583.74,223.03 C583.74,221.12 588.16,221.12 588.16,223.03 Q588.46,224.03 589.96,224.03Q591.46,224.03 591.76,223.03 C591.76,221.12 596.18,221.12 596.18,223.03 Q596.48,224.03 597.98,224.03Q599.48,224.03 599.78,223.03 C599.78,221.12 604.20,221.12 604.20,223.03 Q604.50,224.03 606.00,224.03Q607.50,224.03 607.80,223.03 C607.80,221.12 612.22,221.12 612.22,223.03 Q612.52,224.03 614.02,224.03Q615.52,224.03 615.82,223.03 C615.82,221.12 620.24,221.12 620.24,223.03 Q620.54,224.03 622.04,224.03Q623.54,224.03 623.84,223.03 C623.84,221.12 628.26,221.12 628.26,223.03 Q628.56,224.03 630.06,224.03Q631.56,224.03 631.86,223.03 C631.86,221.12 636.28,221.12 636.28,223.03 Q636.58,224.03 638.08,224.03 M469.66,231.90Q471.16,231.90 471.46,230.90 C471.46,229.00 475.88,229.00 475.88,230.90 Q476.18,231.90 477.68,231.90Q479.18,231.90 479.48,230.90 C479.48,229.00 483.90,229.00 483.90,230.90 Q484.20,231.90 485.70,231.90Q487.20,231.90 487.50,230.90 C487.50,229.00 491.92,229.00 491.92,230.90 Q492.22,231.90 493.72,231.90Q495.22,231.90 495.52,230.90 C495.52,229.00 499.94,229.00 499.94,230.90 Q500.24,231.90 501.74,231.90Q503.24,231.90 503.54,230.90 C503.54,229.00 507.96,229.00 507.96,230.90 Q508.26,231.90 509.76,231.90Q511.26,231.90 511.56,230.90 C511.56,229.00 515.98,229.00 515.98,230.90 Q516.28,231.90 517.78,231.90Q519.28,231.90 519.58,230.90 C519.58,229.00 524.00,229.00 524.00,230.90 Q524.30,231.90 525.80,231.90Q527.30,231.90 527.60,230.90 C527.60,229.00 532.02,229.00 532.02,230.90 Q532.32,231.90 533.82,231.90Q535.32,231.90 535.62,230.90 C535.62,229.00 540.04,229.00 540.04,230.90 Q540.34,231.90 541.84,231.90Q543.34,231.90 543.64,230.90 C543.64,229.00 548.06,229.00 548.06,230.90 Q548.36,231.90 549.86,231.90Q551.36,231.90 551.66,230.90 C551.66,229.00 556.08,229.00 556.08,230.90 Q556.38,231.90 557.88,231.90Q559.38,231.90 559.68,230.90 C559.68,229.00 564.10,229.00 564.10,230.90 Q564.40,231.90 565.90,231.90Q567.40,231.90 567.70,230.90 C567.70,229.00 572.12,229.00 572.12,230.90 Q572.42,231.90 573.92,231.90Q575.42,231.90 575.72,230.90 C575.72,229.00 580.14,229.00 580.14,230.90 Q580.44,231.90 581.94,231.90Q583.44,231.90 583.74,230.90 C583.74,229.00 588.16,229.00 588.16,230.90 Q588.46,231.90 589.96,231.90Q591.46,231.90 591.76,230.90 C591.76,229.00 596.18,229.00 596.18,230.90 Q596.48,231.90 597.98,231.90Q599.48,231.90 599.78,230.90 C599.78,229.00 604.20,229.00 604.20,230.90 Q604.50,231.90 606.00,231.90Q607.50,231.90 607.80,230.90 C607.80,229.00 612.22,229.00 612.22,230.90 Q612.52,231.90 614.02,231.90Q615.52,231.90 615.82,230.90 C615.82,229.00 620.24,229.00 620.24,230.90 Q620.54,231.90 622.04,231.90Q623.54,231.90 623.84,230.90 C623.84,229.00 628.26,229.00 628.26,230.90 Q628.56,231.90 630.06,231.90Q631.56,231.90 631.86,230.90 C631.86,229.00 636.28,229.00 636.28,230.90 Q636.58,231.90 638.08,231.90" fill="none" stroke="#6c6c6c" stroke-width="1.15"/>
</g>
<polygon points="470.0,96.0 615.0,104.0 620.4,233.8 475.2,233.3" fill="none" stroke="#666" stroke-width="0.8"/>
<path d="M187.20,233.60 L187.20,240.20 L198.70,240.20 L198.70,234.30 L205.10,234.30 L205.10,226.20 L189.30,226.20 L189.40,106.30 L189.40,106.30 L241.60,109.30 L243.30,159.40 L238.10,159.40 L238.10,171.50 L244.30,171.50 L247.20,226.90 L240.10,226.90 L240.10,234.70 L249.50,235.00 L252.20,300.00 L254.20,350.00 L255.60,395.10 L252.60,395.10 L252.60,408.50 L256.20,408.50 L258.30,450.00 L261.90,560.00 L262.30,579.40 L260.50,579.40 L260.50,586.30 L262.50,586.30 L265.20,657.00 L263.40,657.00 L263.40,663.30 L265.50,663.30 L269.40,760.00 L270.80,800.40 L266.40,800.40 L266.40,814.50 L287.20,814.50 L285.80,760.00 L280.00,655.00 L276.90,555.00 L273.10,450.00 L271.00,395.00 L269.70,350.00 L267.70,300.00 L265.00,235.30 L263.60,200.00 L262.40,180.00 L258.10,94.80 L102.00,85.40 L102.50,270.00 L118.30,814.50 L135.60,814.50 L135.60,810.10 L149.70,810.10 L149.70,800.40 L133.60,800.40 L132.20,760.00 L129.60,667.40 L130.00,664.79 L130.00,667.40 L229.10,664.70 L229.10,658.30 L227.00,658.40 L227.00,654.20 L223.00,654.20 L223.00,658.50 L130.69,660.29 L131.50,655.00 L130.50,589.24 L226.40,586.60 L226.40,580.30 L129.50,582.58 L128.20,555.00 L125.50,470.00 L122.80,407.30 L124.80,407.30 L124.80,393.10 L120.10,393.10 L120.10,389.50 L109.80,389.50 L109.10,360.30 L119.20,360.30 L119.20,342.10 L108.90,342.10 L107.80,300.70 L117.20,300.70 L117.10,233.00 L118.60,233.00 L118.60,225.30 L117.10,225.30 L117.20,101.50 L185.50,105.60 L185.50,226.20 L181.10,226.20 L181.10,233.60 Z M156.90,303.30 L154.40,233.60 L158.50,233.60 L158.50,226.00 L148.80,226.00 L148.80,233.60 L149.60,233.60 L152.20,303.30 Z M155.20,407.20 L159.30,401.00 L159.40,394.50 L157.60,338.10 L153.50,338.10 L154.60,394.00 L149.00,394.00 L149.00,407.20 Z M217.20,394.40 L194.10,394.40 L194.10,401.60 L199.60,408.30 L217.20,408.20 Z M163.20,625.00 L174.50,624.90 L175.60,620.65 L163.20,620.90 Z M226.40,619.60 L178.40,620.55 L177.40,624.80 L222.40,624.40 L222.40,627.70 L226.40,627.70 Z M465.50,393.50 L468.50,480.00 L471.40,595.00 L476.70,760.00 L478.10,814.50 L497.60,814.50 L497.60,800.40 L493.60,800.40 L491.50,760.00 L490.00,667.50 L490.50,665.64 L490.50,667.50 L597.00,664.50 L597.00,658.70 L491.80,660.77 L489.40,589.40 L489.38,589.16 L594.40,585.80 L594.40,580.10 L588.40,580.20 L588.40,576.40 L584.30,576.40 L584.30,580.40 L488.90,583.17 L487.60,534.70 L487.60,534.68 L582.30,533.30 L582.30,545.90 L586.60,545.90 L586.60,530.30 L590.10,530.30 L590.10,526.20 L486.90,527.98 L485.30,480.00 L482.60,406.90 L514.90,407.60 L520.30,401.50 L520.30,393.50 L480.28,393.50 L476.50,290.00 L471.20,175.00 L469.00,86.00 L454.20,84.70 L457.40,175.00 L461.10,290.00 L465.78,393.50 Z M554.40,394.80 L554.40,400.20 L559.10,408.30 L620.40,408.30 L623.70,480.00 L624.80,525.50 L620.50,525.50 L620.50,529.50 L624.90,529.50 L626.00,579.30 L624.20,579.30 L624.20,585.40 L626.90,585.40 L627.00,586.00 L629.30,657.40 L627.30,657.40 L627.30,663.40 L630.00,663.40 L631.80,760.00 L632.80,801.00 L555.40,801.00 L555.40,814.50 L591.70,814.50 L591.70,809.80 L626.40,809.80 L626.40,814.50 L647.20,814.50 L644.20,760.00 L641.40,680.00 L639.30,610.00 L635.70,510.00 L634.90,480.00 L631.10,394.80 L620.40,394.80 L619.50,353.60 L580.00,353.60 L580.00,358.30 L615.00,358.30 L615.70,394.80 Z M231.50,800.90 L229.00,800.40 L227.70,770.10 L223.60,770.10 L223.60,800.40 L183.80,800.40 L183.80,809.80 L197.40,809.80 L197.40,814.50 L231.50,814.50 Z M522.20,814.50 L530.60,814.50 L530.60,800.40 L522.20,800.40 Z" fill="url(#h)" fill-rule="evenodd" stroke="#1e1e1e" stroke-width="1.35" stroke-linejoin="miter" stroke-miterlimit="6"/>
<g stroke-linecap="butt"><line x1="249.5" y1="235.1" x2="265.0" y2="235.3" stroke="#222" stroke-width="1.0"/><line x1="255.6" y1="395.1" x2="271.0" y2="395.1" stroke="#222" stroke-width="1.0"/><line x1="465.6" y1="393.6" x2="480.3" y2="393.6" stroke="#222" stroke-width="1.2"/><line x1="615.7" y1="394.8" x2="620.4" y2="394.8" stroke="#222" stroke-width="1.2"/><line x1="158.5" y1="226.3" x2="181.1" y2="226.3" stroke="#555" stroke-width="0.8"/><line x1="158.5" y1="233.7" x2="181.1" y2="233.7" stroke="#555" stroke-width="0.8"/><rect x="160.2" y="226.4" width="19.4" height="2.3" fill="none" stroke="#555" stroke-width="0.7"/><line x1="205.1" y1="226.7" x2="240.1" y2="226.7" stroke="#666" stroke-width="0.7"/><line x1="205.1" y1="229.9" x2="240.1" y2="229.9" stroke="#666" stroke-width="0.7"/><line x1="205.1" y1="231.0" x2="240.1" y2="231.0" stroke="#666" stroke-width="0.7"/><line x1="205.1" y1="234.3" x2="240.1" y2="234.3" stroke="#666" stroke-width="0.7"/><polyline points="205.1,226.7 205.1,214.8 245.9,214.8 246.4,226.9" fill="none" stroke="#777" stroke-width="0.7"/><line x1="152.4" y1="303.3" x2="153.6" y2="338.1" stroke="#555" stroke-width="0.7"/><line x1="154.5" y1="303.3" x2="155.6" y2="338.1" stroke="#555" stroke-width="0.7"/><line x1="155.4" y1="303.3" x2="156.5" y2="338.1" stroke="#555" stroke-width="0.7"/><line x1="156.9" y1="303.3" x2="157.6" y2="338.1" stroke="#555" stroke-width="0.7"/><line x1="159.4" y1="394.5" x2="194.1" y2="394.5" stroke="#666" stroke-width="0.7"/><line x1="159.4" y1="399.3" x2="194.1" y2="399.3" stroke="#666" stroke-width="0.7"/><line x1="159.4" y1="400.6" x2="194.1" y2="400.6" stroke="#666" stroke-width="0.7"/><line x1="159.4" y1="402.4" x2="194.1" y2="402.4" stroke="#666" stroke-width="0.7"/><line x1="217.2" y1="394.4" x2="252.6" y2="394.4" stroke="#666" stroke-width="0.7"/><line x1="217.2" y1="405.9" x2="252.6" y2="405.9" stroke="#666" stroke-width="0.7"/><line x1="217.2" y1="407.0" x2="252.6" y2="407.0" stroke="#666" stroke-width="0.7"/><line x1="217.2" y1="408.2" x2="252.6" y2="408.2" stroke="#666" stroke-width="0.7"/><line x1="122.8" y1="407.3" x2="149.0" y2="407.3" stroke="#444" stroke-width="0.8"/><line x1="149.7" y1="801.0" x2="183.8" y2="801.0" stroke="#666" stroke-width="0.7"/><line x1="149.7" y1="803.3" x2="183.8" y2="803.3" stroke="#666" stroke-width="0.7"/><line x1="149.7" y1="810.1" x2="183.8" y2="810.1" stroke="#666" stroke-width="0.7"/><line x1="231.5" y1="801.0" x2="266.4" y2="801.0" stroke="#666" stroke-width="0.7"/><line x1="231.5" y1="803.3" x2="266.4" y2="803.3" stroke="#666" stroke-width="0.7"/><line x1="231.5" y1="814.5" x2="266.4" y2="814.5" stroke="#666" stroke-width="0.7"/><line x1="162.5" y1="588.2" x2="162.5" y2="621.0" stroke="#666" stroke-width="0.8"/><line x1="173.3" y1="588.0" x2="173.3" y2="620.8" stroke="#666" stroke-width="0.8"/><line x1="184.0" y1="587.7" x2="184.0" y2="620.6" stroke="#666" stroke-width="0.8"/><line x1="194.8" y1="587.5" x2="194.8" y2="620.4" stroke="#666" stroke-width="0.8"/><line x1="205.5" y1="587.2" x2="205.5" y2="620.1" stroke="#666" stroke-width="0.8"/><line x1="216.1" y1="587.0" x2="216.1" y2="619.9" stroke="#666" stroke-width="0.8"/><line x1="226.4" y1="586.6" x2="226.4" y2="619.6" stroke="#666" stroke-width="0.8"/><polyline points="226.4,603.5 147.4,604.8 147.4,645.0 163.8,645.0" fill="none" stroke="#666" stroke-width="0.8"/><polyline points="158.2,639.8 163.8,645.0 158.6,650.6" fill="none" stroke="#666" stroke-width="0.8"/><line x1="131.0" y1="619.5" x2="163.2" y2="619.3" stroke="#666" stroke-width="0.8"/><line x1="131.0" y1="630.2" x2="163.2" y2="630.1" stroke="#666" stroke-width="0.8"/><line x1="163.5" y1="625.0" x2="164.5" y2="660.0" stroke="#666" stroke-width="0.8"/><line x1="222.4" y1="600.1" x2="230.5" y2="600.1" stroke="#666" stroke-width="0.8"/><line x1="222.4" y1="605.9" x2="230.5" y2="605.9" stroke="#666" stroke-width="0.8"/><line x1="176.6" y1="619.5" x2="164.9" y2="660" stroke="#333" stroke-width="0.85" stroke-dasharray="5.3,1.9,0.6,1.9"/><line x1="178.2" y1="619.5" x2="166.5" y2="660" stroke="#333" stroke-width="0.85" stroke-dasharray="5.3,1.9,0.6,1.9"/><polyline points="213.2,218.8 222.6,226.5 232.0,218.8" fill="none" stroke="#666" stroke-width="0.8"/><polyline points="127.2,415.5 136.6,407.4 146.3,415.5" fill="none" stroke="#666" stroke-width="0.8"/><polyline points="225.7,416.6 235.1,408.5 244.8,416.6" fill="none" stroke="#666" stroke-width="0.8"/><polyline points="239.8,822.6 249.2,814.5 258.6,822.6" fill="none" stroke="#666" stroke-width="0.8"/><line x1="454.2" y1="84.7" x2="618.4" y2="94.9" stroke="#333" stroke-width="0.9"/><line x1="469.9" y1="95.9" x2="618.4" y2="103.9" stroke="#555" stroke-width="0.8"/><line x1="618.4" y1="94.9" x2="618.4" y2="103.9" stroke="#555" stroke-width="0.8"/><line x1="618.4" y1="94.9" x2="631.1" y2="394.8" stroke="#555" stroke-width="0.8"/><line x1="475.2" y1="233.4" x2="624.3" y2="234.3" stroke="#555" stroke-width="0.9"/><line x1="614.3" y1="239.2" x2="617.6" y2="353.6" stroke="#666" stroke-width="0.8"/><line x1="518.7" y1="233.4" x2="523.1" y2="354.5" stroke="#666" stroke-width="0.8"/><line x1="520.8" y1="233.4" x2="525.2" y2="354.5" stroke="#666" stroke-width="0.8"/><line x1="521.0" y1="239.0" x2="624.6" y2="239.5" stroke="#666" stroke-width="0.8"/><line x1="523.1" y1="353.3" x2="580.0" y2="353.3" stroke="#666" stroke-width="0.8"/><line x1="525.2" y1="354.8" x2="580.0" y2="354.8" stroke="#666" stroke-width="0.8"/><line x1="520.3" y1="393.5" x2="554.4" y2="393.5" stroke="#666" stroke-width="0.7"/><line x1="520.3" y1="398.8" x2="554.4" y2="398.8" stroke="#666" stroke-width="0.7"/><line x1="520.3" y1="400.2" x2="554.4" y2="400.2" stroke="#666" stroke-width="0.7"/><line x1="520.3" y1="401.5" x2="554.4" y2="401.5" stroke="#666" stroke-width="0.7"/><line x1="497.6" y1="801.0" x2="522.2" y2="801.0" stroke="#666" stroke-width="0.7"/><line x1="497.6" y1="803.3" x2="522.2" y2="803.3" stroke="#666" stroke-width="0.7"/><line x1="497.6" y1="814.5" x2="522.2" y2="814.5" stroke="#666" stroke-width="0.7"/><line x1="530.6" y1="801.0" x2="555.4" y2="801.0" stroke="#666" stroke-width="0.7"/><line x1="530.6" y1="803.3" x2="555.4" y2="803.3" stroke="#666" stroke-width="0.7"/><line x1="530.6" y1="814.5" x2="555.4" y2="814.5" stroke="#666" stroke-width="0.7"/><line x1="591.7" y1="814.5" x2="626.4" y2="814.5" stroke="#666" stroke-width="0.7"/><polyline points="527.5,386.0 537.5,393.7 546.8,386.0" fill="none" stroke="#666" stroke-width="0.8"/><line x1="522.4" y1="588.6" x2="522.4" y2="620.4" stroke="#666" stroke-width="0.8"/><line x1="533.1" y1="588.4" x2="533.1" y2="620.3" stroke="#666" stroke-width="0.8"/><line x1="543.8" y1="588.2" x2="543.8" y2="620.2" stroke="#666" stroke-width="0.8"/><line x1="554.5" y1="588.0" x2="554.5" y2="620.1" stroke="#666" stroke-width="0.8"/><line x1="565.2" y1="587.8" x2="565.2" y2="620.0" stroke="#666" stroke-width="0.8"/><line x1="575.9" y1="587.6" x2="575.9" y2="619.9" stroke="#666" stroke-width="0.8"/><line x1="585.9" y1="587.4" x2="585.9" y2="619.8" stroke="#666" stroke-width="0.8"/><line x1="592.3" y1="586.0" x2="592.3" y2="625.3" stroke="#666" stroke-width="0.8"/><line x1="523.7" y1="626.4" x2="523.7" y2="658.7" stroke="#666" stroke-width="0.8"/><line x1="534.5" y1="626.4" x2="534.5" y2="658.5" stroke="#666" stroke-width="0.8"/><line x1="545.3" y1="626.4" x2="545.3" y2="658.3" stroke="#666" stroke-width="0.8"/><line x1="556.0" y1="626.4" x2="556.0" y2="658.1" stroke="#666" stroke-width="0.8"/><line x1="566.8" y1="626.4" x2="566.8" y2="657.9" stroke="#666" stroke-width="0.8"/><line x1="577.2" y1="626.4" x2="577.2" y2="657.7" stroke="#666" stroke-width="0.8"/><line x1="588.3" y1="625.8" x2="588.3" y2="657.8" stroke="#666" stroke-width="0.8"/><line x1="523.1" y1="620.4" x2="523.1" y2="626.4" stroke="#666" stroke-width="0.8"/><line x1="523.1" y1="620.4" x2="592.3" y2="619.7" stroke="#666" stroke-width="0.8"/><line x1="523.1" y1="626.4" x2="592.3" y2="625.3" stroke="#666" stroke-width="0.8"/><polyline points="585.6,603.6 506.2,604.9 506.2,643.9 588.3,642.2" fill="none" stroke="#666" stroke-width="0.8"/><line x1="490.8" y1="619.7" x2="523.1" y2="619.7" stroke="#666" stroke-width="0.8"/><line x1="491.3" y1="630.5" x2="523.1" y2="630.5" stroke="#666" stroke-width="0.8"/><polyline points="582.2,636.5 587.6,641.9 582.2,647.3" fill="none" stroke="#666" stroke-width="0.8"/><line x1="593.0" y1="586.0" x2="626.6" y2="586.0" stroke="#666" stroke-width="0.8"/><line x1="588.3" y1="657.4" x2="628.6" y2="657.4" stroke="#666" stroke-width="0.8"/><polyline points="603.1,592.8 609.8,586.3 616.5,592.8" fill="none" stroke="#666" stroke-width="0.8"/><polyline points="605.8,651.0 612.5,657.4 619.2,651.0" fill="none" stroke="#666" stroke-width="0.8"/><line x1="612.1" y1="549.1" x2="673.8" y2="549.1" stroke="#555" stroke-width="0.8"/></g>
<g><polyline points="113.0,42.2 252.7,51.1" fill="none" stroke="#555" stroke-width="0.75"/><line x1="116.2" y1="46.4" x2="124.8" y2="39.2" stroke="#111" stroke-width="2.0" stroke-linecap="round"/><line x1="240.6" y1="54.1" x2="249.2" y2="46.9" stroke="#111" stroke-width="2.0" stroke-linecap="round"/><line x1="120.2" y1="35.4" x2="120.2" y2="54.9" stroke="#7a7a7a" stroke-width="0.75"/><line x1="245.5" y1="42.8" x2="245.5" y2="62.3" stroke="#7a7a7a" stroke-width="0.75"/><polyline points="111.7,66.0 250.9,74.4" fill="none" stroke="#555" stroke-width="0.75"/><line x1="115.2" y1="69.9" x2="123.8" y2="62.7" stroke="#111" stroke-width="2.0" stroke-linecap="round"/><line x1="184.1" y1="74.5" x2="192.7" y2="67.3" stroke="#111" stroke-width="2.0" stroke-linecap="round"/><line x1="187.1" y1="74.7" x2="195.7" y2="67.5" stroke="#111" stroke-width="2.0" stroke-linecap="round"/><line x1="239.6" y1="77.3" x2="248.2" y2="70.1" stroke="#111" stroke-width="2.0" stroke-linecap="round"/><line x1="118.5" y1="59.0" x2="118.5" y2="77.8" stroke="#7a7a7a" stroke-width="0.75"/><line x1="188.0" y1="63.0" x2="188.0" y2="79.0" stroke="#7a7a7a" stroke-width="0.75"/><line x1="191.1" y1="63.0" x2="191.1" y2="79.0" stroke="#7a7a7a" stroke-width="0.75"/><line x1="244.0" y1="66.3" x2="244.0" y2="80.0" stroke="#7a7a7a" stroke-width="0.75"/><polyline points="69.3,93.8 69.3,234.0 71.4,394.3 73.2,408.0 80.0,584.9 83.5,668.4 86.6,809.8" fill="none" stroke="#555" stroke-width="0.75"/><line x1="65.2" y1="97.5" x2="73.4" y2="105.4" stroke="#111" stroke-width="2.0" stroke-linecap="round"/><line x1="65.2" y1="221.2" x2="73.4" y2="229.1" stroke="#111" stroke-width="2.0" stroke-linecap="round"/><line x1="65.2" y1="230.0" x2="73.4" y2="237.8" stroke="#111" stroke-width="2.0" stroke-linecap="round"/><line x1="67.3" y1="390.4" x2="75.5" y2="398.2" stroke="#111" stroke-width="2.0" stroke-linecap="round"/><line x1="69.1" y1="404.2" x2="77.3" y2="412.1" stroke="#111" stroke-width="2.0" stroke-linecap="round"/><line x1="75.9" y1="580.9" x2="84.1" y2="588.9" stroke="#111" stroke-width="2.0" stroke-linecap="round"/><line x1="76.1" y1="586.9" x2="84.3" y2="594.9" stroke="#111" stroke-width="2.0" stroke-linecap="round"/><line x1="79.2" y1="658.9" x2="87.4" y2="666.9" stroke="#111" stroke-width="2.0" stroke-linecap="round"/><line x1="79.4" y1="664.4" x2="87.6" y2="672.4" stroke="#111" stroke-width="2.0" stroke-linecap="round"/><line x1="82.3" y1="798.4" x2="90.5" y2="806.4" stroke="#111" stroke-width="2.0" stroke-linecap="round"/><line x1="62.2" y1="101.4" x2="81.2" y2="101.4" stroke="#7a7a7a" stroke-width="0.75"/><line x1="62.2" y1="225.2" x2="81.2" y2="225.2" stroke="#7a7a7a" stroke-width="0.75"/><line x1="62.2" y1="233.9" x2="81.2" y2="233.9" stroke="#7a7a7a" stroke-width="0.75"/><line x1="64.3" y1="394.3" x2="83.5" y2="394.3" stroke="#7a7a7a" stroke-width="0.75"/><line x1="65.4" y1="408.6" x2="85.2" y2="408.6" stroke="#7a7a7a" stroke-width="0.75"/><line x1="72.3" y1="584.9" x2="92.0" y2="584.9" stroke="#7a7a7a" stroke-width="0.75"/><line x1="72.3" y1="590.9" x2="92.0" y2="590.9" stroke="#7a7a7a" stroke-width="0.75"/><line x1="74.9" y1="662.9" x2="95.0" y2="662.9" stroke="#7a7a7a" stroke-width="0.75"/><line x1="74.9" y1="668.4" x2="95.0" y2="668.4" stroke="#7a7a7a" stroke-width="0.75"/><line x1="79.2" y1="802.4" x2="98.5" y2="802.4" stroke="#7a7a7a" stroke-width="0.75"/><polyline points="298.6,98.4 306.2,234.0 312.6,406.1 318.6,583.2 322.0,661.2 327.6,806.4" fill="none" stroke="#555" stroke-width="0.75"/><line x1="295.3" y1="102.0" x2="303.5" y2="110.0" stroke="#111" stroke-width="2.0" stroke-linecap="round"/><line x1="301.4" y1="220.4" x2="309.6" y2="228.2" stroke="#111" stroke-width="2.0" stroke-linecap="round"/><line x1="302.1" y1="228.8" x2="310.3" y2="236.6" stroke="#111" stroke-width="2.0" stroke-linecap="round"/><line x1="308.0" y1="388.4" x2="316.2" y2="396.2" stroke="#111" stroke-width="2.0" stroke-linecap="round"/><line x1="308.5" y1="402.2" x2="316.7" y2="410.1" stroke="#111" stroke-width="2.0" stroke-linecap="round"/><line x1="314.3" y1="573.2" x2="322.5" y2="581.2" stroke="#111" stroke-width="2.0" stroke-linecap="round"/><line x1="314.5" y1="579.2" x2="322.7" y2="587.2" stroke="#111" stroke-width="2.0" stroke-linecap="round"/><line x1="317.7" y1="650.9" x2="325.9" y2="658.9" stroke="#111" stroke-width="2.0" stroke-linecap="round"/><line x1="317.9" y1="657.2" x2="326.1" y2="665.2" stroke="#111" stroke-width="2.0" stroke-linecap="round"/><line x1="323.1" y1="795.2" x2="331.3" y2="803.2" stroke="#111" stroke-width="2.0" stroke-linecap="round"/><line x1="288.0" y1="106.0" x2="307.0" y2="106.0" stroke="#7a7a7a" stroke-width="0.75"/><line x1="293.3" y1="224.3" x2="313.0" y2="224.3" stroke="#7a7a7a" stroke-width="0.75"/><line x1="294.0" y1="232.7" x2="313.8" y2="232.7" stroke="#7a7a7a" stroke-width="0.75"/><line x1="300.2" y1="392.3" x2="319.8" y2="392.3" stroke="#7a7a7a" stroke-width="0.75"/><line x1="300.6" y1="406.1" x2="320.3" y2="406.1" stroke="#7a7a7a" stroke-width="0.75"/><line x1="307.4" y1="577.2" x2="326.3" y2="577.2" stroke="#7a7a7a" stroke-width="0.75"/><line x1="307.4" y1="583.2" x2="326.3" y2="583.2" stroke="#7a7a7a" stroke-width="0.75"/><line x1="310.5" y1="654.9" x2="329.8" y2="654.9" stroke="#7a7a7a" stroke-width="0.75"/><line x1="310.5" y1="661.2" x2="329.8" y2="661.2" stroke="#7a7a7a" stroke-width="0.75"/><line x1="315.7" y1="799.2" x2="334.9" y2="799.2" stroke="#7a7a7a" stroke-width="0.75"/><polyline points="121.4,575.1 270.8,570.9" fill="none" stroke="#555" stroke-width="0.75"/><line x1="124.8" y1="578.9" x2="132.8" y2="570.9" stroke="#111" stroke-width="2.0" stroke-linecap="round"/><line x1="258.8" y1="574.9" x2="266.8" y2="566.9" stroke="#111" stroke-width="2.0" stroke-linecap="round"/><polyline points="125.7,878.3 279.0,878.3" fill="none" stroke="#555" stroke-width="0.75"/><line x1="129.1" y1="881.8" x2="137.5" y2="874.8" stroke="#111" stroke-width="2.0" stroke-linecap="round"/><line x1="133.3" y1="867.6" x2="133.3" y2="885.9" stroke="#7a7a7a" stroke-width="0.75"/><line x1="220.6" y1="881.8" x2="229.0" y2="874.8" stroke="#111" stroke-width="2.0" stroke-linecap="round"/><line x1="224.8" y1="867.6" x2="224.8" y2="885.9" stroke="#7a7a7a" stroke-width="0.75"/><line x1="223.8" y1="881.8" x2="232.2" y2="874.8" stroke="#111" stroke-width="2.0" stroke-linecap="round"/><line x1="228.0" y1="867.6" x2="228.0" y2="885.9" stroke="#7a7a7a" stroke-width="0.75"/><line x1="266.8" y1="881.8" x2="275.2" y2="874.8" stroke="#111" stroke-width="2.0" stroke-linecap="round"/><line x1="271.0" y1="867.6" x2="271.0" y2="885.9" stroke="#7a7a7a" stroke-width="0.75"/><polyline points="425.2,401.2 430.7,585.5 434.2,668.7 439.3,809.8" fill="none" stroke="#555" stroke-width="0.75"/><line x1="421.5" y1="404.9" x2="429.7" y2="412.8" stroke="#111" stroke-width="2.0" stroke-linecap="round"/><line x1="426.6" y1="581.5" x2="434.8" y2="589.5" stroke="#111" stroke-width="2.0" stroke-linecap="round"/><line x1="426.8" y1="587.5" x2="435.0" y2="595.5" stroke="#111" stroke-width="2.0" stroke-linecap="round"/><line x1="429.9" y1="658.8" x2="438.1" y2="666.7" stroke="#111" stroke-width="2.0" stroke-linecap="round"/><line x1="430.1" y1="664.8" x2="438.3" y2="672.7" stroke="#111" stroke-width="2.0" stroke-linecap="round"/><line x1="434.9" y1="798.6" x2="443.1" y2="806.6" stroke="#111" stroke-width="2.0" stroke-linecap="round"/><polyline points="444.1,400.3 448.7,536.7 450.5,591.5" fill="none" stroke="#555" stroke-width="0.75"/><line x1="440.4" y1="404.1" x2="448.6" y2="411.9" stroke="#111" stroke-width="2.0" stroke-linecap="round"/><line x1="444.4" y1="525.8" x2="452.6" y2="533.8" stroke="#111" stroke-width="2.0" stroke-linecap="round"/><line x1="444.6" y1="532.8" x2="452.8" y2="540.7" stroke="#111" stroke-width="2.0" stroke-linecap="round"/><line x1="446.4" y1="580.3" x2="454.6" y2="588.2" stroke="#111" stroke-width="2.0" stroke-linecap="round"/><line x1="417.4" y1="409.2" x2="456.0" y2="407.5" stroke="#7a7a7a" stroke-width="0.75"/><line x1="441.0" y1="529.8" x2="460.8" y2="529.8" stroke="#7a7a7a" stroke-width="0.75"/><line x1="441.0" y1="536.7" x2="460.8" y2="536.7" stroke="#7a7a7a" stroke-width="0.75"/><line x1="437.6" y1="585.0" x2="462.5" y2="583.6" stroke="#7a7a7a" stroke-width="0.75"/><line x1="424.2" y1="591.5" x2="443.6" y2="591.5" stroke="#7a7a7a" stroke-width="0.75"/><line x1="427.3" y1="662.7" x2="446.7" y2="662.7" stroke="#7a7a7a" stroke-width="0.75"/><line x1="427.3" y1="668.7" x2="446.7" y2="668.7" stroke="#7a7a7a" stroke-width="0.75"/><line x1="431.1" y1="802.6" x2="450.5" y2="802.6" stroke="#7a7a7a" stroke-width="0.75"/><polyline points="670.0,348.0 672.3,405.0 682.9,582.3 686.3,662.1 689.6,807.2" fill="none" stroke="#555" stroke-width="0.75"/><line x1="666.4" y1="352.2" x2="674.6" y2="360.1" stroke="#111" stroke-width="2.0" stroke-linecap="round"/><line x1="667.3" y1="389.1" x2="675.5" y2="396.9" stroke="#111" stroke-width="2.0" stroke-linecap="round"/><line x1="668.2" y1="401.1" x2="676.4" y2="408.9" stroke="#111" stroke-width="2.0" stroke-linecap="round"/><line x1="678.6" y1="572.3" x2="686.8" y2="580.2" stroke="#111" stroke-width="2.0" stroke-linecap="round"/><line x1="678.8" y1="578.3" x2="687.0" y2="586.2" stroke="#111" stroke-width="2.0" stroke-linecap="round"/><line x1="682.0" y1="650.8" x2="690.2" y2="658.7" stroke="#111" stroke-width="2.0" stroke-linecap="round"/><line x1="682.2" y1="658.1" x2="690.4" y2="666.1" stroke="#111" stroke-width="2.0" stroke-linecap="round"/><line x1="685.1" y1="795.5" x2="693.3" y2="803.5" stroke="#111" stroke-width="2.0" stroke-linecap="round"/><line x1="658.5" y1="356.1" x2="677.7" y2="356.1" stroke="#7a7a7a" stroke-width="0.75"/><line x1="660.2" y1="393.0" x2="679.8" y2="393.0" stroke="#7a7a7a" stroke-width="0.75"/><line x1="660.2" y1="405.0" x2="679.8" y2="405.0" stroke="#7a7a7a" stroke-width="0.75"/><line x1="671.4" y1="576.3" x2="690.6" y2="576.3" stroke="#7a7a7a" stroke-width="0.75"/><line x1="671.4" y1="582.3" x2="690.6" y2="582.3" stroke="#7a7a7a" stroke-width="0.75"/><line x1="674.3" y1="654.7" x2="693.5" y2="654.7" stroke="#7a7a7a" stroke-width="0.75"/><line x1="674.3" y1="662.1" x2="693.5" y2="662.1" stroke="#7a7a7a" stroke-width="0.75"/><line x1="677.4" y1="799.5" x2="696.6" y2="799.5" stroke="#7a7a7a" stroke-width="0.75"/><polyline points="478.8,514.9 632.1,511.2" fill="none" stroke="#555" stroke-width="0.75"/><line x1="482.9" y1="518.7" x2="490.9" y2="510.7" stroke="#111" stroke-width="2.0" stroke-linecap="round"/><line x1="577.2" y1="516.4" x2="585.2" y2="508.4" stroke="#111" stroke-width="2.0" stroke-linecap="round"/><line x1="581.3" y1="516.3" x2="589.3" y2="508.3" stroke="#111" stroke-width="2.0" stroke-linecap="round"/><line x1="620.7" y1="515.4" x2="628.7" y2="507.4" stroke="#111" stroke-width="2.0" stroke-linecap="round"/><line x1="581.2" y1="504.4" x2="581.2" y2="523.3" stroke="#7a7a7a" stroke-width="0.75"/><line x1="585.3" y1="504.4" x2="585.3" y2="523.3" stroke="#7a7a7a" stroke-width="0.75"/><polyline points="481.5,574.4 634.1,569.7" fill="none" stroke="#555" stroke-width="0.75"/><line x1="484.3" y1="578.2" x2="492.3" y2="570.2" stroke="#111" stroke-width="2.0" stroke-linecap="round"/><line x1="622.7" y1="574.2" x2="630.7" y2="566.2" stroke="#111" stroke-width="2.0" stroke-linecap="round"/><polyline points="482.9,679.0 637.7,675.0" fill="none" stroke="#555" stroke-width="0.75"/><line x1="485.6" y1="682.8" x2="493.6" y2="674.8" stroke="#111" stroke-width="2.0" stroke-linecap="round"/><line x1="625.6" y1="679.2" x2="633.6" y2="671.2" stroke="#111" stroke-width="2.0" stroke-linecap="round"/><polyline points="485.7,878.3 639.0,878.3" fill="none" stroke="#555" stroke-width="0.75"/><line x1="489.1" y1="881.8" x2="497.5" y2="874.8" stroke="#111" stroke-width="2.0" stroke-linecap="round"/><line x1="493.3" y1="867.6" x2="493.3" y2="885.9" stroke="#7a7a7a" stroke-width="0.75"/><line x1="626.8" y1="881.8" x2="635.2" y2="874.8" stroke="#111" stroke-width="2.0" stroke-linecap="round"/><line x1="631.0" y1="867.6" x2="631.0" y2="885.9" stroke="#7a7a7a" stroke-width="0.75"/><line x1="133.4" y1="221.5" x2="133.4" y2="239.7" stroke="#666" stroke-width="0.8"/><line x1="170.0" y1="218.2" x2="170.0" y2="259.2" stroke="#666" stroke-width="0.8"/><line x1="222.6" y1="213.5" x2="222.6" y2="259.2" stroke="#666" stroke-width="0.8"/><line x1="177.4" y1="367.7" x2="177.4" y2="420.5" stroke="#666" stroke-width="0.8"/><line x1="235.1" y1="368.2" x2="235.1" y2="420.7" stroke="#666" stroke-width="0.8"/><line x1="166.5" y1="790.3" x2="166.5" y2="842.8" stroke="#666" stroke-width="0.8"/><line x1="249.2" y1="790.3" x2="249.2" y2="842.8" stroke="#666" stroke-width="0.8"/><line x1="537.6" y1="367.6" x2="537.6" y2="420.4" stroke="#666" stroke-width="0.8"/><line x1="603.8" y1="519.2" x2="603.8" y2="536.7" stroke="#666" stroke-width="0.8"/><line x1="510.0" y1="790.3" x2="510.0" y2="842.8" stroke="#666" stroke-width="0.8"/><line x1="543.0" y1="790.3" x2="543.0" y2="842.8" stroke="#666" stroke-width="0.8"/><line x1="146.1" y1="320.6" x2="181.8" y2="320.6" stroke="#666" stroke-width="0.8"/><line x1="576.2" y1="561.0" x2="594.4" y2="561.0" stroke="#666" stroke-width="0.8"/></g>
<g><text x="133.1" y="160.1" font-size="10.2" fill="#2e2e2e" stroke="#2e2e2e" stroke-width="0.22" textLength="37.6" lengthAdjust="spacingAndGlyphs">BAGNO</text><text x="131.4" y="172.9" font-size="10.2" fill="#555" stroke="#555" stroke-width="0.22" textLength="41.1" lengthAdjust="spacingAndGlyphs">mq. 5,59</text><text x="127.0" y="183.7" font-size="10.2" fill="#555" stroke="#555" stroke-width="0.22" textLength="49.3" lengthAdjust="spacingAndGlyphs">r.i.a. 1/9,3</text><text x="140.0" y="195.5" font-size="10.2" fill="#555" stroke="#555" stroke-width="0.22" textLength="24.5" lengthAdjust="spacingAndGlyphs">h.300</text><text x="202.6" y="160.1" font-size="10.2" fill="#2e2e2e" stroke="#2e2e2e" stroke-width="0.22" textLength="23.3" lengthAdjust="spacingAndGlyphs">LAV.</text><text x="193.5" y="172.9" font-size="10.2" fill="#555" stroke="#555" stroke-width="0.22" textLength="41.1" lengthAdjust="spacingAndGlyphs">mq. 4,34</text><text x="201.4" y="183.7" font-size="10.2" fill="#555" stroke="#555" stroke-width="0.22" textLength="25.3" lengthAdjust="spacingAndGlyphs">h.300</text><text x="118.6" y="319.0" font-size="10.2" fill="#2e2e2e" stroke="#2e2e2e" stroke-width="0.22" textLength="22.2" lengthAdjust="spacingAndGlyphs">DIS.</text><text x="109.5" y="330.7" font-size="10.2" fill="#555" stroke="#555" stroke-width="0.22" textLength="40.7" lengthAdjust="spacingAndGlyphs">mq. 3,60</text><text x="200.9" y="318.8" font-size="10.2" fill="#2e2e2e" stroke="#2e2e2e" stroke-width="0.22" textLength="36.3" lengthAdjust="spacingAndGlyphs">CORTE</text><text x="195.5" y="331.0" font-size="10.2" fill="#555" stroke="#555" stroke-width="0.22" textLength="46.6" lengthAdjust="spacingAndGlyphs">mq. 10,18</text><text x="159.4" y="489.8" font-size="10.2" fill="#2e2e2e" stroke="#2e2e2e" stroke-width="0.22" textLength="67.9" lengthAdjust="spacingAndGlyphs">SOGGIORNO</text><text x="169.4" y="501.4" font-size="10.2" fill="#555" stroke="#555" stroke-width="0.22" textLength="47.1" lengthAdjust="spacingAndGlyphs">mq. 15,47</text><text x="168.1" y="513.2" font-size="10.2" fill="#555" stroke="#555" stroke-width="0.22" textLength="49.8" lengthAdjust="spacingAndGlyphs">r.i.a. 1/4,3</text><text x="180.2" y="524.8" font-size="10.2" fill="#555" stroke="#555" stroke-width="0.22" textLength="26.1" lengthAdjust="spacingAndGlyphs">h.303</text><text x="233.8" y="623.6" font-size="10.2" fill="#2e2e2e" stroke="#2e2e2e" stroke-width="0.22" textLength="22.2" lengthAdjust="spacingAndGlyphs">DIS.</text><text x="227.1" y="635.8" font-size="10.2" fill="#555" stroke="#555" stroke-width="0.22" textLength="35.7" lengthAdjust="spacingAndGlyphs">mq. 1,77</text><text x="188.0" y="639.8" font-size="10.2" fill="#2e2e2e" stroke="#2e2e2e" stroke-width="0.22" textLength="20.9" lengthAdjust="spacingAndGlyphs">RIP.</text><text x="180.0" y="652.6" font-size="10.2" fill="#555" stroke="#555" stroke-width="0.22" textLength="38.4" lengthAdjust="spacingAndGlyphs">mq. 1,05</text><text x="181.0" y="711.3" font-size="10.2" fill="#2e2e2e" stroke="#2e2e2e" stroke-width="0.22" textLength="41.8" lengthAdjust="spacingAndGlyphs">CUCINA</text><text x="179.0" y="723.2" font-size="10.2" fill="#555" stroke="#555" stroke-width="0.22" textLength="46.7" lengthAdjust="spacingAndGlyphs">mq. 12,40</text><text x="177.0" y="735.3" font-size="10.2" fill="#555" stroke="#555" stroke-width="0.22" textLength="49.2" lengthAdjust="spacingAndGlyphs">r.i.a. 1/6,8</text><text x="189.5" y="746.6" font-size="10.2" fill="#555" stroke="#555" stroke-width="0.22" textLength="25.4" lengthAdjust="spacingAndGlyphs">h.312</text><text x="559.0" y="373.7" font-size="10.2" fill="#2e2e2e" stroke="#2e2e2e" stroke-width="0.22" textLength="49.9" lengthAdjust="spacingAndGlyphs">BALCONE</text><text x="563.9" y="385.1" font-size="10.2" fill="#555" stroke="#555" stroke-width="0.22" textLength="40.6" lengthAdjust="spacingAndGlyphs">mq. 7,20</text><text x="533.2" y="453.3" font-size="10.2" fill="#2e2e2e" stroke="#2e2e2e" stroke-width="0.22" textLength="33.7" lengthAdjust="spacingAndGlyphs">LETTO</text><text x="526.8" y="465.4" font-size="10.2" fill="#555" stroke="#555" stroke-width="0.22" textLength="46.3" lengthAdjust="spacingAndGlyphs">mq. 13,38</text><text x="525.4" y="476.7" font-size="10.2" fill="#555" stroke="#555" stroke-width="0.22" textLength="49.0" lengthAdjust="spacingAndGlyphs">r.i.a. 1/4,6</text><text x="537.3" y="488.3" font-size="10.2" fill="#555" stroke="#555" stroke-width="0.22" textLength="25.0" lengthAdjust="spacingAndGlyphs">h.307</text><text x="499.7" y="546.1" font-size="10.2" fill="#2e2e2e" stroke="#2e2e2e" stroke-width="0.22" textLength="38.4" lengthAdjust="spacingAndGlyphs">BAGNO</text><text x="499.0" y="558.3" font-size="10.2" fill="#555" stroke="#555" stroke-width="0.22" textLength="40.4" lengthAdjust="spacingAndGlyphs">mq. 3,57</text><text x="499.0" y="569.7" font-size="10.2" fill="#555" stroke="#555" stroke-width="0.22" textLength="41.1" lengthAdjust="spacingAndGlyphs">aer. forz.</text><text x="645.5" y="546.6" font-size="10.2" fill="#2e2e2e" stroke="#2e2e2e" stroke-width="0.22" textLength="22.9" lengthAdjust="spacingAndGlyphs">DIS.</text><text x="640.0" y="558.7" font-size="10.2" fill="#555" stroke="#555" stroke-width="0.22" textLength="34.0" lengthAdjust="spacingAndGlyphs">mq. 1,30</text><text x="597.0" y="621.0" font-size="10.2" fill="#2e2e2e" stroke="#2e2e2e" stroke-width="0.22" textLength="22.2" lengthAdjust="spacingAndGlyphs">DIS.</text><text x="591.6" y="633.8" font-size="10.2" fill="#555" stroke="#555" stroke-width="0.22" textLength="34.4" lengthAdjust="spacingAndGlyphs">mq. 1,83</text><text x="544.8" y="727.7" font-size="10.2" fill="#2e2e2e" stroke="#2e2e2e" stroke-width="0.22" textLength="33.6" lengthAdjust="spacingAndGlyphs">LETTO</text><text x="538.1" y="740.4" font-size="10.2" fill="#555" stroke="#555" stroke-width="0.22" textLength="47.1" lengthAdjust="spacingAndGlyphs">mq. 12,69</text><text x="536.7" y="751.7" font-size="10.2" fill="#555" stroke="#555" stroke-width="0.22" textLength="49.3" lengthAdjust="spacingAndGlyphs">r.i.a. 1/5,7</text><text x="548.8" y="763.3" font-size="10.2" fill="#555" stroke="#555" stroke-width="0.22" textLength="25.6" lengthAdjust="spacingAndGlyphs">h.327</text><text transform="translate(182.05,41.41) rotate(3.6)" x="-7.75" y="3.19" font-size="9.0" fill="#3a3a3a" stroke="#3a3a3a" stroke-width="0.22" textLength="15.5" lengthAdjust="spacingAndGlyphs">321</text><text transform="translate(153.45,63.60) rotate(3.5)" x="-8.05" y="3.19" font-size="9.0" fill="#3a3a3a" stroke="#3a3a3a" stroke-width="0.22" textLength="16.1" lengthAdjust="spacingAndGlyphs">177</text><text transform="translate(217.45,67.21) rotate(3.5)" x="-8.05" y="3.19" font-size="9.0" fill="#3a3a3a" stroke="#3a3a3a" stroke-width="0.22" textLength="16.1" lengthAdjust="spacingAndGlyphs">134</text><text transform="translate(195.40,567.80) rotate(-1.6)" x="-8.90" y="3.19" font-size="9.0" fill="#3a3a3a" stroke="#3a3a3a" stroke-width="0.22" textLength="17.8" lengthAdjust="spacingAndGlyphs">345</text><text x="170.8" y="877.2" font-size="9.0" fill="#3a3a3a" stroke="#3a3a3a" stroke-width="0.22" textLength="16.7" lengthAdjust="spacingAndGlyphs">235</text><text x="241.3" y="877.2" font-size="9.0" fill="#3a3a3a" stroke="#3a3a3a" stroke-width="0.22" textLength="17.1" lengthAdjust="spacingAndGlyphs">110</text><text x="553.7" y="877.2" font-size="9.0" fill="#3a3a3a" stroke="#3a3a3a" stroke-width="0.22" textLength="17.1" lengthAdjust="spacingAndGlyphs">355</text><text transform="translate(533.80,507.81) rotate(-1.4)" x="-8.30" y="3.19" font-size="9.0" fill="#3a3a3a" stroke="#3a3a3a" stroke-width="0.22" textLength="16.6" lengthAdjust="spacingAndGlyphs">246</text><text transform="translate(604.70,506.20) rotate(-1.4)" x="-8.30" y="3.19" font-size="9.0" fill="#3a3a3a" stroke="#3a3a3a" stroke-width="0.22" textLength="16.6" lengthAdjust="spacingAndGlyphs">100</text><text transform="translate(557.35,566.80) rotate(-1.8)" x="-8.55" y="3.19" font-size="9.0" fill="#3a3a3a" stroke="#3a3a3a" stroke-width="0.22" textLength="17.1" lengthAdjust="spacingAndGlyphs">356</text><text transform="translate(560.10,672.20) rotate(-1.5)" x="-8.10" y="3.19" font-size="9.0" fill="#3a3a3a" stroke="#3a3a3a" stroke-width="0.22" textLength="16.2" lengthAdjust="spacingAndGlyphs">363</text><text x="167.7" y="319.2" font-size="9.9" fill="#5a5a5a" stroke="#5a5a5a" stroke-width="0.22" textLength="10.7" lengthAdjust="spacingAndGlyphs">90</text><text x="164.3" y="330.0" font-size="9.9" fill="#5a5a5a" stroke="#5a5a5a" stroke-width="0.22" textLength="16.2" lengthAdjust="spacingAndGlyphs">150</text><text x="579.6" y="559.3" font-size="9.9" fill="#5a5a5a" stroke="#5a5a5a" stroke-width="0.22" textLength="10.8" lengthAdjust="spacingAndGlyphs">80</text><text x="577.6" y="570.4" font-size="9.9" fill="#5a5a5a" stroke="#5a5a5a" stroke-width="0.22" textLength="16.1" lengthAdjust="spacingAndGlyphs">210</text><rect x="65.8" y="153.8" width="7" height="20.2" fill="#fff"/><text transform="translate(69.30,163.90) rotate(-90)" x="-8.10" y="3.19" font-size="9.0" fill="#3a3a3a" stroke="#3a3a3a" stroke-width="0.22" textLength="16.2" lengthAdjust="spacingAndGlyphs">320</text><rect x="66.7" y="304.5" width="7" height="20.2" fill="#fff"/><text transform="translate(70.20,314.60) rotate(-91)" x="-8.10" y="3.19" font-size="9.0" fill="#3a3a3a" stroke="#3a3a3a" stroke-width="0.22" textLength="16.2" lengthAdjust="spacingAndGlyphs">414</text><rect x="73.6" y="486.8" width="7" height="20.2" fill="#fff"/><text transform="translate(77.10,496.90) rotate(-92)" x="-8.10" y="3.19" font-size="9.0" fill="#3a3a3a" stroke="#3a3a3a" stroke-width="0.22" textLength="16.2" lengthAdjust="spacingAndGlyphs">456</text><rect x="78.6" y="617.7" width="7" height="20.2" fill="#fff"/><text transform="translate(82.10,627.80) rotate(-92)" x="-8.10" y="3.19" font-size="9.0" fill="#3a3a3a" stroke="#3a3a3a" stroke-width="0.22" textLength="16.2" lengthAdjust="spacingAndGlyphs">185</text><rect x="80.8" y="725.1" width="7" height="20.2" fill="#fff"/><text transform="translate(84.30,735.20) rotate(-92)" x="-8.10" y="3.19" font-size="9.0" fill="#3a3a3a" stroke="#3a3a3a" stroke-width="0.22" textLength="16.2" lengthAdjust="spacingAndGlyphs">346</text><rect x="298.6" y="155.2" width="7" height="20.2" fill="#fff"/><text transform="translate(302.10,165.30) rotate(-92.3)" x="-8.10" y="3.19" font-size="9.0" fill="#3a3a3a" stroke="#3a3a3a" stroke-width="0.22" textLength="16.2" lengthAdjust="spacingAndGlyphs">305</text><rect x="304.8" y="302.8" width="7" height="20.2" fill="#fff"/><text transform="translate(308.30,312.90) rotate(-92.3)" x="-8.10" y="3.19" font-size="9.0" fill="#3a3a3a" stroke="#3a3a3a" stroke-width="0.22" textLength="16.2" lengthAdjust="spacingAndGlyphs">414</text><rect x="312.5" y="481.7" width="7" height="20.2" fill="#fff"/><text transform="translate(316.00,491.80) rotate(-92.3)" x="-8.10" y="3.19" font-size="9.0" fill="#3a3a3a" stroke="#3a3a3a" stroke-width="0.22" textLength="16.2" lengthAdjust="spacingAndGlyphs">442</text><rect x="317.7" y="609.1" width="7" height="20.2" fill="#fff"/><text transform="translate(321.20,619.20) rotate(-92.3)" x="-8.10" y="3.19" font-size="9.0" fill="#3a3a3a" stroke="#3a3a3a" stroke-width="0.22" textLength="16.2" lengthAdjust="spacingAndGlyphs">185</text><rect x="321.1" y="719.5" width="7" height="20.2" fill="#fff"/><text transform="translate(324.60,729.60) rotate(-92.3)" x="-8.10" y="3.19" font-size="9.0" fill="#3a3a3a" stroke="#3a3a3a" stroke-width="0.22" textLength="16.2" lengthAdjust="spacingAndGlyphs">356</text><rect x="424.7" y="487.1" width="7" height="20.2" fill="#fff"/><text transform="translate(428.20,497.20) rotate(-92)" x="-8.10" y="3.19" font-size="9.0" fill="#3a3a3a" stroke="#3a3a3a" stroke-width="0.22" textLength="16.2" lengthAdjust="spacingAndGlyphs">456</text><rect x="443.2" y="458.8" width="7" height="20.2" fill="#fff"/><text transform="translate(446.70,468.90) rotate(-91.9)" x="-8.10" y="3.19" font-size="9.0" fill="#3a3a3a" stroke="#3a3a3a" stroke-width="0.22" textLength="16.2" lengthAdjust="spacingAndGlyphs">316</text><rect x="446.6" y="549.6" width="7" height="20.2" fill="#fff"/><text transform="translate(450.10,559.70) rotate(-91.9)" x="-8.10" y="3.19" font-size="9.0" fill="#3a3a3a" stroke="#3a3a3a" stroke-width="0.22" textLength="16.2" lengthAdjust="spacingAndGlyphs">125</text><rect x="429.5" y="617.4" width="7" height="20.2" fill="#fff"/><text transform="translate(433.00,627.50) rotate(-92)" x="-8.10" y="3.19" font-size="9.0" fill="#3a3a3a" stroke="#3a3a3a" stroke-width="0.22" textLength="16.2" lengthAdjust="spacingAndGlyphs">185</text><rect x="433.2" y="725.1" width="7" height="20.2" fill="#fff"/><text transform="translate(436.70,735.20) rotate(-92)" x="-8.10" y="3.19" font-size="9.0" fill="#3a3a3a" stroke="#3a3a3a" stroke-width="0.22" textLength="16.2" lengthAdjust="spacingAndGlyphs">346</text><rect x="667.4" y="366.9" width="7" height="14.8" fill="#fff"/><text transform="translate(670.90,374.30) rotate(-92.4)" x="-5.40" y="3.19" font-size="9.0" fill="#3a3a3a" stroke="#3a3a3a" stroke-width="0.22" textLength="10.8" lengthAdjust="spacingAndGlyphs">95</text><rect x="673.9" y="480.3" width="7" height="20.2" fill="#fff"/><text transform="translate(677.40,490.40) rotate(-92.4)" x="-8.10" y="3.19" font-size="9.0" fill="#3a3a3a" stroke="#3a3a3a" stroke-width="0.22" textLength="16.2" lengthAdjust="spacingAndGlyphs">442</text><rect x="681.6" y="608.2" width="7" height="20.2" fill="#fff"/><text transform="translate(685.10,618.30) rotate(-92.4)" x="-8.10" y="3.19" font-size="9.0" fill="#3a3a3a" stroke="#3a3a3a" stroke-width="0.22" textLength="16.2" lengthAdjust="spacingAndGlyphs">185</text><rect x="684.1" y="720.7" width="7" height="20.2" fill="#fff"/><text transform="translate(687.60,730.80) rotate(-92.4)" x="-8.10" y="3.19" font-size="9.0" fill="#3a3a3a" stroke="#3a3a3a" stroke-width="0.22" textLength="16.2" lengthAdjust="spacingAndGlyphs">356</text><text transform="translate(128.60,230.30) rotate(-90)" x="-5.40" y="3.51" font-size="9.9" fill="#5a5a5a" stroke="#5a5a5a" stroke-width="0.22" textLength="10.8" lengthAdjust="spacingAndGlyphs">80</text><text transform="translate(139.80,230.95) rotate(-90)" x="-8.05" y="3.51" font-size="9.9" fill="#5a5a5a" stroke="#5a5a5a" stroke-width="0.22" textLength="16.1" lengthAdjust="spacingAndGlyphs">210</text><text transform="translate(165.40,248.40) rotate(-90)" x="-5.40" y="3.51" font-size="9.9" fill="#5a5a5a" stroke="#5a5a5a" stroke-width="0.22" textLength="10.8" lengthAdjust="spacingAndGlyphs">60</text><text transform="translate(177.10,248.15) rotate(-90)" x="-7.75" y="3.51" font-size="9.9" fill="#5a5a5a" stroke="#5a5a5a" stroke-width="0.22" textLength="15.5" lengthAdjust="spacingAndGlyphs">100</text><text transform="translate(217.20,249.80) rotate(-90)" x="-5.40" y="3.51" font-size="9.9" fill="#5a5a5a" stroke="#5a5a5a" stroke-width="0.22" textLength="10.8" lengthAdjust="spacingAndGlyphs">90</text><text transform="translate(228.60,249.10) rotate(-90)" x="-8.10" y="3.51" font-size="9.9" fill="#5a5a5a" stroke="#5a5a5a" stroke-width="0.22" textLength="16.2" lengthAdjust="spacingAndGlyphs">200</text><text transform="translate(172.40,373.80) rotate(-90)" x="-5.40" y="3.51" font-size="9.9" fill="#5a5a5a" stroke="#5a5a5a" stroke-width="0.22" textLength="10.8" lengthAdjust="spacingAndGlyphs">90</text><text transform="translate(183.20,376.45) rotate(-90)" x="-8.05" y="3.51" font-size="9.9" fill="#5a5a5a" stroke="#5a5a5a" stroke-width="0.22" textLength="16.1" lengthAdjust="spacingAndGlyphs">155</text><text transform="translate(230.00,376.55) rotate(-90)" x="-5.05" y="3.51" font-size="9.9" fill="#5a5a5a" stroke="#5a5a5a" stroke-width="0.22" textLength="10.1" lengthAdjust="spacingAndGlyphs">90</text><text transform="translate(241.10,376.90) rotate(-90)" x="-8.10" y="3.51" font-size="9.9" fill="#5a5a5a" stroke="#5a5a5a" stroke-width="0.22" textLength="16.2" lengthAdjust="spacingAndGlyphs">242</text><text transform="translate(161.80,835.05) rotate(-90)" x="-5.05" y="3.51" font-size="9.9" fill="#5a5a5a" stroke="#5a5a5a" stroke-width="0.22" textLength="10.1" lengthAdjust="spacingAndGlyphs">90</text><text transform="translate(172.60,835.05) rotate(-90)" x="-7.75" y="3.51" font-size="9.9" fill="#5a5a5a" stroke="#5a5a5a" stroke-width="0.22" textLength="15.5" lengthAdjust="spacingAndGlyphs">155</text><text transform="translate(243.50,834.70) rotate(-90)" x="-5.40" y="3.51" font-size="9.9" fill="#5a5a5a" stroke="#5a5a5a" stroke-width="0.22" textLength="10.8" lengthAdjust="spacingAndGlyphs">90</text><text transform="translate(256.00,834.70) rotate(-90)" x="-8.10" y="3.51" font-size="9.9" fill="#5a5a5a" stroke="#5a5a5a" stroke-width="0.22" textLength="16.2" lengthAdjust="spacingAndGlyphs">260</text><text transform="translate(219.20,785.15) rotate(-90)" x="-5.15" y="3.51" font-size="9.9" fill="#5a5a5a" stroke="#5a5a5a" stroke-width="0.22" textLength="10.3" lengthAdjust="spacingAndGlyphs">80</text><text transform="translate(532.30,375.90) rotate(-90)" x="-4.80" y="3.51" font-size="9.9" fill="#5a5a5a" stroke="#5a5a5a" stroke-width="0.22" textLength="9.6" lengthAdjust="spacingAndGlyphs">92</text><text transform="translate(543.20,375.90) rotate(-90)" x="-8.30" y="3.51" font-size="9.9" fill="#5a5a5a" stroke="#5a5a5a" stroke-width="0.22" textLength="16.6" lengthAdjust="spacingAndGlyphs">296</text><text transform="translate(598.40,528.00) rotate(-90)" x="-5.40" y="3.51" font-size="9.9" fill="#5a5a5a" stroke="#5a5a5a" stroke-width="0.22" textLength="10.8" lengthAdjust="spacingAndGlyphs">80</text><text transform="translate(609.60,527.30) rotate(-90)" x="-8.10" y="3.51" font-size="9.9" fill="#5a5a5a" stroke="#5a5a5a" stroke-width="0.22" textLength="16.2" lengthAdjust="spacingAndGlyphs">210</text><text transform="translate(505.00,833.65) rotate(-90)" x="-5.05" y="3.51" font-size="9.9" fill="#5a5a5a" stroke="#5a5a5a" stroke-width="0.22" textLength="10.1" lengthAdjust="spacingAndGlyphs">65</text><text transform="translate(515.80,833.05) rotate(-90)" x="-7.75" y="3.51" font-size="9.9" fill="#5a5a5a" stroke="#5a5a5a" stroke-width="0.22" textLength="15.5" lengthAdjust="spacingAndGlyphs">170</text><text transform="translate(538.00,833.65) rotate(-90)" x="-5.05" y="3.51" font-size="9.9" fill="#5a5a5a" stroke="#5a5a5a" stroke-width="0.22" textLength="10.1" lengthAdjust="spacingAndGlyphs">65</text><text transform="translate(548.80,833.05) rotate(-90)" x="-7.75" y="3.51" font-size="9.9" fill="#5a5a5a" stroke="#5a5a5a" stroke-width="0.22" textLength="15.5" lengthAdjust="spacingAndGlyphs">170</text><text x="94.2" y="948.4" font-size="21.3" fill="#333" stroke="#333" stroke-width="0" textLength="166.7" lengthAdjust="spacingAndGlyphs">pianta piano terra</text><line x1="93.5" y1="953.7" x2="262.5" y2="953.7" stroke="#666" stroke-width="1.3"/><text x="95.0" y="968.9" font-size="13.8" fill="#333" stroke="#333" stroke-width="0" textLength="132.5" lengthAdjust="spacingAndGlyphs">STATO MODIFICATO</text><text x="492.8" y="946.9" font-size="21.3" fill="#333" stroke="#333" stroke-width="0" textLength="176.3" lengthAdjust="spacingAndGlyphs">pianta piano primo</text><line x1="492.1" y1="951.9" x2="669.8" y2="951.9" stroke="#666" stroke-width="1.3"/><text x="492.9" y="967.2" font-size="13.8" fill="#333" stroke="#333" stroke-width="0" textLength="132.5" lengthAdjust="spacingAndGlyphs">STATO MODIFICATO</text></g>
</svg></body></html>
